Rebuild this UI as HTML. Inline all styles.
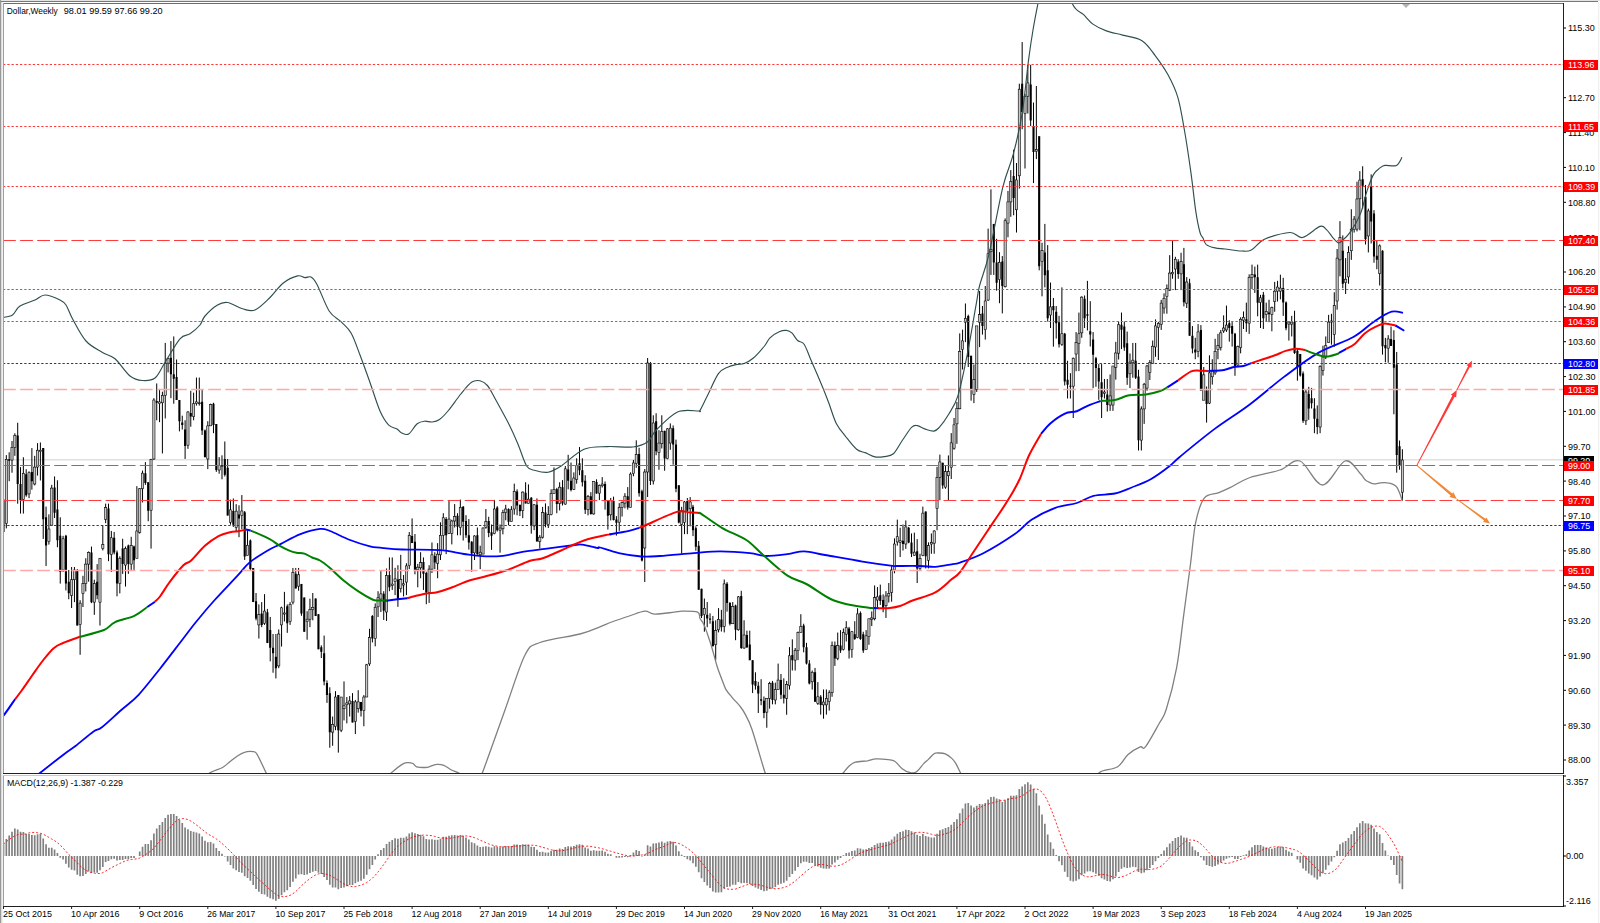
<!DOCTYPE html><html><head><meta charset="utf-8"><style>html,body{margin:0;padding:0;background:#fff;overflow:hidden}</style></head><body><svg width="1600" height="923" viewBox="0 0 1600 923" style="display:block"><rect x="0" y="0" width="1600" height="923" fill="#fff"/><rect x="0" y="0" width="1600" height="1" fill="#e3e3e3"/><rect x="0" y="1" width="1598" height="1" fill="#787878"/><rect x="0" y="0" width="1" height="923" fill="#999999"/><rect x="1" y="2" width="1" height="921" fill="#dcdcdc"/><rect x="2" y="2" width="1" height="921" fill="#f0f0f0"/><rect x="1598" y="2" width="1" height="921" fill="#f0f0f0"/><rect x="1599" y="2" width="1" height="921" fill="#fafafa"/><defs><clipPath id="mc"><rect x="4" y="4" width="1559" height="769"/></clipPath><clipPath id="sc"><rect x="4" y="776" width="1559" height="130"/></clipPath></defs><g clip-path="url(#mc)"><line x1="4" y1="459.7" x2="1563" y2="459.7" stroke="#e0e0e0" stroke-width="1.6"/><path d="M3.50 496.69V532.61M6.34 455.14V528.38M9.18 452.32V481.20M12.01 441.06V472.75M14.85 433.31V455.85M17.69 422.75V503.73M20.52 467.11V513.59M23.36 457.25V513.59M26.20 469.23V496.69M29.04 471.34V498.10M31.88 448.10V489.65M34.71 455.85V485.42M37.55 443.17V475.56M40.39 442.46V480.49M43.23 448.10V538.94M46.06 506.58V566.07M48.90 514.38V544.61M51.74 484.86V525.83M54.57 476.41V518.02M57.41 480.31V547.28M60.25 517.31V583.62M63.09 535.84V571.92M65.92 534.86V590.45M68.76 569.97V599.23M71.60 567.04V608.00M74.44 567.04V602.15M77.27 568.99V625.56M80.11 600.20V654.81M82.95 575.82V607.03M85.79 558.27V591.42M88.62 551.44V581.67M91.46 546.56V603.13M94.30 579.72V614.83M97.14 564.12V599.23M99.97 558.27V625.56M102.81 525.11V550.46M105.65 503.65V523.16M108.49 503.65V561.19M111.33 530.96V571.92M114.16 531.93V554.37M117.00 550.46V596.30M119.84 556.32V593.37M122.67 538.76V573.87M125.51 546.56V586.55M128.35 544.61V573.87M131.19 536.81V569.97M134.03 545.59V569.97M136.86 486.16V558.27M139.70 488.11V533.63M142.54 470.56V502.42M145.38 462.11V484.86M148.21 482.26V521.27M151.05 458.86V548.58M153.89 398.18V459.91M156.72 383.44V420.29M159.56 388.96V422.13M162.40 391.73V453.46M165.24 342.90V418.45M168.07 357.64V372.38M170.91 341.06V398.18M173.75 336.45V403.71M176.59 359.48V400.02M179.42 400.02V431.35M182.26 415.68V429.50M185.10 420.29V458.98M187.94 411.08V448.85M190.78 390.81V426.74M193.61 392.65V420.29M196.45 377.54V405.55M199.29 377.54V405.55M202.12 389.89V435.03M204.96 429.50V457.14M207.80 421.21V469.12M210.64 403.71V425.82M213.47 402.78V433.19M216.31 423.97V471.88M219.15 457.14V473.73M221.99 455.30V479.25M224.82 441.48V476.49M227.66 458.98V515.56M230.50 499.61V524.67M233.34 498.47V526.95M236.17 504.17V531.50M239.01 505.31V537.20M241.85 495.06V529.23M244.69 511.00V559.98M247.53 530.36V555.42M250.36 539.48V570.23M253.20 567.95V602.12M256.04 593.01V620.34M258.88 604.40V638.56M261.71 602.12V627.18M264.55 594.15V624.90M267.39 608.95V643.12M270.22 616.92V661.34M273.06 634.01V672.73M275.90 634.01V678.43M278.74 629.45V668.18M281.57 606.67V646.54M284.41 591.87V621.48M287.25 604.40V632.87M290.09 602.12V624.90M292.93 567.95V604.40M295.76 567.95V588.45M298.60 567.95V590.73M301.44 583.90V615.79M304.27 597.56V631.73M307.11 611.23V639.70M309.95 598.70V627.18M312.79 593.01V620.34M315.62 598.53V616.08M318.46 614.13V649.24M321.30 645.34V658.02M324.14 635.59V685.32M326.97 680.45V702.88M329.81 687.28V747.74M332.65 716.53V745.79M335.49 691.18V730.19M338.32 695.08V752.62M341.16 697.03V732.14M344.00 681.42V720.43M346.84 697.03V723.36M349.68 696.05V716.53M352.51 693.13V722.38M355.35 699.95V734.09M358.19 690.20V712.63M361.02 701.90V716.53M363.86 695.08V726.28M366.70 663.87V697.03M369.54 628.76V665.82M372.38 615.11V642.41M375.21 603.41V646.32M378.05 591.23V617.06M380.89 571.07V612.04M383.72 591.23V619.98M386.56 568.47V620.96M389.40 557.42V591.23M392.24 557.42V589.93M395.07 567.82V595.13M397.91 565.22V606.83M400.75 554.82V592.53M403.59 574.97V596.43M406.43 563.27V595.13M409.26 532.06V569.12M412.10 518.41V543.11M414.94 534.01V574.32M417.77 563.92V587.33M420.61 552.22V578.22M423.45 557.42V589.93M426.29 571.72V604.23M429.12 565.22V602.93M431.96 542.46V573.02M434.80 552.22V569.12M437.64 543.11V578.22M440.47 522.31V560.02M443.31 513.21V549.62M446.15 517.11V554.17M448.99 500.85V534.01M451.82 519.71V544.41M454.66 504.10V527.51M457.50 513.21V535.31M460.34 499.55V535.31M463.18 506.05V540.51M466.01 515.16V537.91M468.85 519.06V549.62M471.69 541.16V571.72M474.52 535.31V560.02M477.36 527.51V554.82M480.20 545.72V569.12M483.04 527.32V554.08M485.88 509.01V528.73M488.71 516.76V537.18M491.55 524.51V549.86M494.39 499.86V534.37M497.22 506.20V531.55M500.06 524.51V552.68M502.90 509.72V534.37M505.74 504.79V520.28M508.57 508.31V525.21M511.41 506.20V521.69M514.25 483.66V514.65M517.09 489.30V515.35M519.92 504.79V516.06M522.76 491.41V518.17M525.60 482.25V503.38M528.44 484.37V503.38M531.27 497.04V533.66M534.11 504.08V530.14M536.95 498.45V541.41M539.79 535.07V548.45M542.62 506.90V538.59M545.46 503.38V527.32M548.30 506.20V528.03M551.14 489.30V515.35M553.98 467.46V493.52M556.81 487.89V513.24M559.65 482.25V510.42M562.49 480.14V505.49M565.32 466.06V504.79M568.16 454.79V489.30M571.00 462.54V491.41M573.84 472.39V490.00M576.67 458.31V483.66M579.51 447.04V475.21M582.35 458.31V486.48M585.19 475.21V513.94M588.02 494.93V515.35M590.86 492.11V514.65M593.70 481.55V514.65M596.54 479.30V493.60M599.38 484.50V500.10M602.21 477.13V487.53M605.05 481.46V509.63M607.89 500.53V529.56M610.73 497.93V520.46M613.56 496.63V520.46M616.40 516.13V535.62M619.24 503.13V530.86M622.07 501.40V516.56M624.91 493.16V508.33M627.75 487.10V509.63M630.59 472.37V507.46M633.42 459.97V476.27M636.26 440.33V467.80M639.10 447.78V496.63M641.94 489.70V561.46M644.77 469.00V582.00M647.61 358.00V497.00M650.45 362.00V485.00M653.29 415.27V484.50M656.12 413.24V455.23M658.96 430.17V469.76M661.80 415.27V448.46M664.64 430.85V470.73M667.48 428.14V459.29M670.31 423.40V449.81M673.15 425.43V464.71M675.99 439.65V492.20M678.82 485.37V523.41M681.66 506.83V553.66M684.50 500.98V534.15M687.34 498.05V534.15M690.17 497.07V526.34M693.01 504.88V536.10M695.85 526.34V550.73M698.69 540.98V589.76M701.52 588.78V618.05M704.36 598.54V631.71M707.20 602.07V627.20M710.04 613.34V623.74M712.88 615.94V646.27M715.71 620.27V660.14M718.55 608.13V632.40M721.39 609.87V631.54M724.23 579.53V632.40M727.06 582.13V611.60M729.90 602.07V625.47M732.74 602.07V623.74M735.57 604.67V640.20M738.41 596.00V630.67M741.25 590.80V648.87M744.09 620.27V648.87M746.92 630.67V648.00M749.76 630.67V660.14M752.60 660.14V693.07M755.44 672.27V689.60M758.27 681.80V713.01M761.11 679.20V705.21M763.95 696.54V718.21M766.79 698.27V727.74M769.62 681.80V708.67M772.46 680.94V704.34M775.30 682.67V704.34M778.14 663.60V689.60M780.98 674.00V699.14M783.81 678.34V703.47M786.65 680.94V714.74M789.49 647.14V689.60M792.32 639.34V670.54M795.16 648.00V670.54M798.00 631.54V660.14M800.84 614.20V632.40M803.67 623.74V652.34M806.51 642.80V664.47M809.35 660.14V684.40M812.19 670.54V689.60M815.02 667.94V701.74M817.86 682.14V704.89M820.70 695.14V714.64M823.54 689.45V718.71M826.38 689.45V714.64M829.21 690.27V710.58M832.05 641.51V696.77M834.89 641.51V665.89M837.73 632.57V660.20M840.56 630.13V652.89M843.40 628.51V650.45M846.24 621.19V641.51M849.07 626.88V658.57M851.91 630.95V657.76M854.75 621.19V639.88M857.59 608.19V638.26M860.42 611.44V639.88M863.26 631.76V652.89M866.10 630.13V649.64M868.94 618.76V644.76M871.77 611.44V626.07M874.61 585.44V620.38M877.45 587.06V607.38M880.29 584.63V604.94M883.12 594.38V612.26M885.96 591.13V617.94M888.80 583.00V602.50M891.64 566.00V601.70M894.48 538.33V573.27M897.31 519.64V545.64M900.15 527.76V557.02M902.99 524.51V550.52M905.82 520.45V548.89M908.66 526.95V543.20M911.50 533.45V557.02M914.34 532.64V555.39M917.17 539.14V583.02M920.01 553.77V570.02M922.85 506.63V556.20M925.69 511.51V568.39M928.52 542.39V568.39M931.36 533.45V553.77M934.20 530.20V553.77M937.04 466.82V530.20M939.88 454.63V500.13M942.71 462.75V488.76M945.55 466.00V488.76M948.39 455.44V500.13M951.23 433.12V479.01M954.06 418.01V449.69M956.90 401.93V443.84M959.74 333.38V409.24M962.57 329.64V369.51M965.41 303.48V342.10M968.25 314.69V367.02M971.09 355.81V400.66M973.92 364.53V403.15M976.76 325.91V391.94M979.60 291.02V347.09M982.44 305.97V334.63M985.27 286.04V339.61M988.11 228.61V300.99M990.95 189.34V274.94M993.79 223.90V274.94M996.62 238.82V290.65M999.46 252.17V303.21M1002.30 256.09V313.45M1005.14 218.40V287.51M1007.98 190.91V237.25M1010.81 170.07V216.83M1013.65 149.65V215.26M1016.49 163.00V232.54M1019.32 83.69V188.56M1022.16 42.07V129.24M1025.00 93.90V168.50M1027.84 64.84V113.53M1030.67 64.84V126.09M1033.51 102.54V183.06M1036.35 86.04V159.08M1039.19 136.30V270.32M1042.02 242.74V296.32M1044.86 223.90V287.38M1047.70 245.10V321.51M1050.54 282.50V328.01M1053.38 297.94V346.70M1056.21 306.07V338.57M1059.05 315.82V347.51M1061.89 287.38V345.89M1064.72 332.89V385.51M1067.56 360.81V398.52M1070.40 373.16V398.52M1073.24 357.56V418.02M1076.08 332.07V371.21M1078.91 312.57V371.08M1081.75 296.32V337.76M1084.59 295.51V328.01M1087.42 280.88V330.45M1090.26 301.19V346.50M1093.10 332.07V388.11M1095.94 356.91V386.81M1098.77 364.06V399.82M1101.61 364.06V418.02M1104.45 379.01V398.52M1107.29 379.01V411.52M1110.12 374.46V410.87M1112.96 366.01V410.87M1115.80 341.83V379.66M1118.64 321.51V359.51M1121.47 312.57V349.10M1124.31 321.51V350.76M1127.15 331.58V384.86M1129.99 353.52V388.11M1132.83 342.95V377.71M1135.66 342.95V379.01M1138.50 369.77V450.53M1141.34 406.32V450.53M1144.17 382.91V423.88M1147.01 364.89V390.72M1149.85 360.00V380.00M1152.69 340.52V363.27M1155.52 319.39V356.77M1158.36 321.83V360.02M1161.20 299.88V329.95M1164.04 293.38V313.70M1166.88 284.44V313.70M1169.71 255.19V290.95M1172.55 240.56V278.76M1175.39 256.82V290.13M1178.22 259.25V278.76M1181.06 252.75V290.13M1183.90 247.88V306.39M1186.74 277.13V308.01M1189.58 278.76V335.64M1192.41 326.07V353.37M1195.25 337.77V359.23M1198.09 324.12V357.28M1200.92 325.09V390.43M1203.76 367.03V400.19M1206.60 386.53V422.62M1209.44 355.32V404.09M1212.27 359.23V384.58M1215.11 338.75V374.83M1217.95 333.87V359.23M1220.79 329.97V350.45M1223.62 315.34V332.89M1226.46 305.59V331.92M1229.30 320.22V341.67M1232.14 321.19V346.55M1234.97 332.89V375.80M1237.81 345.57V366.05M1240.65 317.29V353.37M1243.49 311.44V328.99M1246.33 302.66V331.92M1249.16 274.38V333.87M1252.00 264.63V289.01M1254.84 266.58V292.91M1257.67 264.63V316.32M1260.51 294.86V328.02M1263.35 291.93V328.99M1266.19 302.66V321.19M1269.02 299.74V322.17M1271.86 306.61V331.31M1274.70 281.91V311.75M1277.54 280.88V301.46M1280.38 274.70V299.40M1283.21 277.79V315.87M1286.05 301.46V330.28M1288.89 321.02V340.57M1291.72 315.87V336.46M1294.56 310.72V353.95M1297.40 348.81V380.71M1300.24 353.95V376.60M1303.08 371.45V422.91M1305.91 389.98V424.97M1308.75 386.89V419.82M1311.59 387.92V408.50M1314.42 398.21V433.20M1317.26 405.41V434.23M1320.10 365.27V433.20M1322.94 345.72V375.57M1325.77 336.46V359.10M1328.61 314.84V342.63M1331.45 313.81V344.69M1334.29 292.27V346.75M1337.12 249.04V309.70M1339.96 221.17V276.34M1342.80 235.39V288.29M1345.64 258.14V293.98M1348.47 246.19V283.74M1351.31 209.22V259.85M1354.15 216.05V232.54M1356.99 181.69V231.41M1359.83 171.13V230.27M1362.66 166.25V208.65M1365.50 184.94V244.49M1368.34 208.65V252.45M1371.17 174.38V243.45M1374.01 210.13V262.75M1376.85 241.01V269.25M1379.69 244.33V285.50M1382.52 250.29V354.67M1385.36 337.88V362.25M1388.20 335.17V362.80M1391.04 326.50V346.00M1393.88 330.29V414.26M1396.71 351.96V472.68M1399.55 440.49V469.76M1402.39 449.23V500.98" stroke="#000" stroke-width="1" fill="none"/><path d="M2.45 499.51h2.1V531.90h-2.1ZM8.12 459.37h2.1V460.77h-2.1ZM16.64 435.42h2.1V484.01h-2.1ZM19.47 484.01h2.1V500.21h-2.1ZM25.15 474.15h2.1V495.28h-2.1ZM30.82 472.04h2.1V481.20h-2.1ZM42.18 448.10h2.1V519.23h-2.1ZM45.01 517.31h2.1V545.59h-2.1ZM53.52 487.46h2.1V512.82h-2.1ZM56.36 509.57h2.1V540.13h-2.1ZM59.20 535.84h2.1V571.92h-2.1ZM64.88 535.84h2.1V583.62h-2.1ZM67.71 581.67h2.1V593.37h-2.1ZM76.22 569.97h2.1V625.56h-2.1ZM90.41 552.41h2.1V602.15h-2.1ZM96.09 581.67h2.1V595.32h-2.1ZM107.44 508.53h2.1V554.37h-2.1ZM113.11 537.79h2.1V552.41h-2.1ZM115.95 552.41h2.1V583.62h-2.1ZM121.62 548.51h2.1V564.12h-2.1ZM127.30 545.59h2.1V564.12h-2.1ZM132.97 546.56h2.1V560.22h-2.1ZM144.32 473.16h2.1V482.91h-2.1ZM147.16 482.26h2.1V510.87h-2.1ZM155.67 400.94h2.1V402.78h-2.1ZM169.86 357.64h2.1V374.22h-2.1ZM172.70 374.22h2.1V378.83h-2.1ZM175.54 376.99h2.1V400.02h-2.1ZM178.37 400.02h2.1V421.21h-2.1ZM181.21 422.59h2.1V424.90h-2.1ZM184.05 429.50h2.1V446.09h-2.1ZM189.72 412.92h2.1V416.60h-2.1ZM201.07 401.86h2.1V430.42h-2.1ZM203.91 430.42h2.1V457.14h-2.1ZM212.42 403.71h2.1V424.90h-2.1ZM215.26 423.97h2.1V470.04h-2.1ZM223.77 458.98h2.1V474.65h-2.1ZM226.61 467.74h2.1V515.56h-2.1ZM232.29 511.00h2.1V524.67h-2.1ZM237.96 514.38h2.1V518.44h-2.1ZM243.64 512.14h2.1V556.56h-2.1ZM249.31 540.62h2.1V569.09h-2.1ZM252.15 567.95h2.1V602.12h-2.1ZM254.99 601.33h2.1V618.39h-2.1ZM260.66 613.52h2.1V624.89h-2.1ZM266.34 612.37h2.1V643.12h-2.1ZM269.17 630.02h2.1V647.68h-2.1ZM272.01 647.68h2.1V653.37h-2.1ZM274.85 656.79h2.1V668.18h-2.1ZM286.20 606.20h2.1V623.27h-2.1ZM294.71 573.64h2.1V588.45h-2.1ZM300.39 583.90h2.1V613.51h-2.1ZM303.22 597.56h2.1V631.73h-2.1ZM314.57 598.53h2.1V616.08h-2.1ZM317.41 614.13h2.1V649.24h-2.1ZM320.25 647.29h2.1V651.68h-2.1ZM323.09 653.14h2.1V681.42h-2.1ZM325.92 682.89h2.1V695.08h-2.1ZM328.76 693.13h2.1V732.14h-2.1ZM337.27 695.08h2.1V730.19h-2.1ZM351.46 700.93h2.1V722.38h-2.1ZM359.97 701.90h2.1V710.68h-2.1ZM371.32 616.08h2.1V638.51h-2.1ZM382.67 593.83h2.1V610.73h-2.1ZM388.35 574.97h2.1V587.33h-2.1ZM396.86 579.53h2.1V599.03h-2.1ZM411.05 535.96h2.1V543.11h-2.1ZM413.89 541.81h2.1V569.77h-2.1ZM422.40 561.97h2.1V573.67h-2.1ZM425.24 573.02h2.1V592.53h-2.1ZM433.75 556.12h2.1V562.62h-2.1ZM445.10 519.06h2.1V535.31h-2.1ZM456.45 515.81h2.1V526.86h-2.1ZM462.12 506.70h2.1V521.66h-2.1ZM464.96 521.01h2.1V535.31h-2.1ZM467.80 535.31h2.1V542.46h-2.1ZM470.64 541.81h2.1V553.52h-2.1ZM476.31 535.31h2.1V554.17h-2.1ZM487.66 520.99h2.1V532.96h-2.1ZM490.50 532.25h2.1V535.77h-2.1ZM496.17 507.61h2.1V530.14h-2.1ZM507.52 509.01h2.1V521.69h-2.1ZM516.04 491.41h2.1V505.49h-2.1ZM518.88 504.79h2.1V511.13h-2.1ZM524.55 492.82h2.1V503.38h-2.1ZM530.23 497.75h2.1V525.92h-2.1ZM535.90 504.79h2.1V541.41h-2.1ZM544.41 512.54h2.1V524.51h-2.1ZM555.76 489.30h2.1V504.08h-2.1ZM561.44 487.18h2.1V503.38h-2.1ZM567.11 469.58h2.1V480.85h-2.1ZM569.95 480.85h2.1V490.00h-2.1ZM578.46 463.24h2.1V470.28h-2.1ZM581.30 470.28h2.1V482.25h-2.1ZM584.14 480.85h2.1V509.72h-2.1ZM589.81 496.34h2.1V513.94h-2.1ZM595.49 481.90h2.1V493.60h-2.1ZM604.00 484.06h2.1V500.53h-2.1ZM606.84 500.53h2.1V515.69h-2.1ZM612.51 500.96h2.1V520.03h-2.1ZM615.35 519.59h2.1V522.63h-2.1ZM626.70 496.20h2.1V507.46h-2.1ZM638.05 453.88h2.1V493.16h-2.1ZM640.89 491.20h2.1V560.50h-2.1ZM649.40 363.00h2.1V481.00h-2.1ZM655.08 421.37h2.1V451.17h-2.1ZM663.59 430.85h2.1V458.62h-2.1ZM672.10 428.14h2.1V444.39h-2.1ZM674.94 444.39h2.1V488.78h-2.1ZM677.77 485.37h2.1V522.44h-2.1ZM686.29 500.98h2.1V510.73h-2.1ZM691.96 506.83h2.1V530.24h-2.1ZM694.80 528.29h2.1V546.83h-2.1ZM697.64 545.85h2.1V589.76h-2.1ZM700.48 588.78h2.1V616.10h-2.1ZM706.15 614.64h2.1V618.54h-2.1ZM708.99 618.54h2.1V619.84h-2.1ZM711.83 621.14h2.1V646.27h-2.1ZM720.34 619.40h2.1V627.20h-2.1ZM726.01 583.87h2.1V602.93h-2.1ZM728.85 602.93h2.1V623.74h-2.1ZM734.52 605.53h2.1V629.80h-2.1ZM740.20 596.00h2.1V648.00h-2.1ZM745.88 635.00h2.1V647.14h-2.1ZM748.71 644.54h2.1V660.14h-2.1ZM751.55 660.14h2.1V684.40h-2.1ZM754.39 680.94h2.1V685.70h-2.1ZM757.23 685.70h2.1V693.50h-2.1ZM760.06 699.14h2.1V700.87h-2.1ZM762.90 700.87h2.1V713.01h-2.1ZM771.41 682.67h2.1V700.01h-2.1ZM779.93 680.07h2.1V694.80h-2.1ZM782.76 694.80h2.1V698.27h-2.1ZM791.27 654.94h2.1V660.14h-2.1ZM802.62 625.47h2.1V647.14h-2.1ZM805.46 647.14h2.1V663.60h-2.1ZM808.30 663.60h2.1V683.54h-2.1ZM813.98 672.27h2.1V701.74h-2.1ZM819.65 696.77h2.1V704.89h-2.1ZM833.84 645.57h2.1V658.57h-2.1ZM839.51 645.57h2.1V650.45h-2.1ZM848.02 628.51h2.1V650.45h-2.1ZM853.70 634.20h2.1V639.07h-2.1ZM859.38 613.07h2.1V639.07h-2.1ZM862.21 634.20h2.1V650.45h-2.1ZM879.24 595.19h2.1V600.88h-2.1ZM882.08 600.07h2.1V608.19h-2.1ZM901.94 540.76h2.1V544.01h-2.1ZM907.61 527.76h2.1V542.39h-2.1ZM910.45 542.39h2.1V553.77h-2.1ZM916.12 551.33h2.1V568.39h-2.1ZM924.64 511.51h2.1V556.20h-2.1ZM941.66 462.75h2.1V485.51h-2.1ZM967.20 315.94h2.1V357.05h-2.1ZM970.04 355.81h2.1V389.45h-2.1ZM981.39 313.45h2.1V325.91h-2.1ZM992.74 223.90h2.1V262.38h-2.1ZM995.58 262.38h2.1V282.79h-2.1ZM1001.25 261.59h2.1V285.94h-2.1ZM1012.60 175.99h2.1V197.98h-2.1ZM1021.11 83.69h2.1V111.96h-2.1ZM1029.62 84.47h2.1V120.60h-2.1ZM1032.46 126.09h2.1V152.01h-2.1ZM1038.14 136.30h2.1V266.25h-2.1ZM1043.81 252.44h2.1V275.19h-2.1ZM1046.65 270.32h2.1V318.26h-2.1ZM1052.33 306.07h2.1V310.13h-2.1ZM1055.16 311.76h2.1V323.14h-2.1ZM1058.00 322.32h2.1V344.26h-2.1ZM1063.67 333.70h2.1V381.61h-2.1ZM1066.51 379.66h2.1V384.86h-2.1ZM1069.35 385.84h2.1V386.64h-2.1ZM1083.54 298.76h2.1V318.26h-2.1ZM1086.38 314.20h2.1V315.82h-2.1ZM1089.21 331.26h2.1V334.51h-2.1ZM1092.05 339.39h2.1V354.83h-2.1ZM1094.89 358.21h2.1V367.96h-2.1ZM1097.72 367.96h2.1V381.61h-2.1ZM1100.56 382.26h2.1V397.22h-2.1ZM1106.24 394.62h2.1V405.02h-2.1ZM1120.42 324.76h2.1V329.64h-2.1ZM1123.26 326.39h2.1V347.51h-2.1ZM1126.10 343.25h2.1V377.71h-2.1ZM1134.61 360.81h2.1V377.71h-2.1ZM1137.45 376.41h2.1V440.13h-2.1ZM1177.17 261.69h2.1V273.88h-2.1ZM1182.85 264.13h2.1V302.32h-2.1ZM1188.53 283.16h2.1V335.64h-2.1ZM1191.36 335.82h2.1V348.50h-2.1ZM1194.20 349.47h2.1V352.40h-2.1ZM1199.88 329.97h2.1V390.43h-2.1ZM1205.55 390.43h2.1V404.09h-2.1ZM1228.25 323.14h2.1V328.02h-2.1ZM1231.09 326.07h2.1V333.87h-2.1ZM1233.92 333.87h2.1V367.03h-2.1ZM1245.28 319.24h2.1V323.14h-2.1ZM1253.79 274.38h2.1V277.31h-2.1ZM1256.62 277.31h2.1V302.66h-2.1ZM1262.30 294.86h2.1V318.27h-2.1ZM1267.97 312.41h2.1V314.37h-2.1ZM1282.16 288.08h2.1V302.49h-2.1ZM1285.00 302.49h2.1V328.22h-2.1ZM1293.51 322.05h2.1V352.92h-2.1ZM1296.35 350.86h2.1V367.33h-2.1ZM1299.19 353.95h2.1V375.57h-2.1ZM1302.03 373.51h2.1V420.85h-2.1ZM1307.70 394.09h2.1V408.50h-2.1ZM1310.54 398.21h2.1V403.36h-2.1ZM1313.38 408.50h2.1V418.79h-2.1ZM1316.21 418.79h2.1V427.03h-2.1ZM1341.75 250.75h2.1V283.74h-2.1ZM1361.61 179.25h2.1V185.75h-2.1ZM1364.45 196.80h2.1V239.37h-2.1ZM1370.12 186.57h2.1V221.51h-2.1ZM1372.96 213.38h2.1V256.45h-2.1ZM1375.80 255.64h2.1V259.70h-2.1ZM1381.47 250.83h2.1V346.27h-2.1ZM1384.31 344.92h2.1V348.17h-2.1ZM1389.99 338.96h2.1V346.00h-2.1ZM1392.83 340.04h2.1V367.67h-2.1ZM1395.66 364.42h2.1V455.12h-2.1ZM1398.50 446.34h2.1V464.88h-2.1Z" fill="#000"/><g fill="#c8c8c8" stroke="#000" stroke-width="0.6"><rect x="5.24" y="459.37" width="2.2" height="64.08"/><rect x="10.91" y="447.39" width="2.2" height="12.68"/><rect x="13.75" y="435.42" width="2.2" height="11.97"/><rect x="22.26" y="473.45" width="2.2" height="26.06"/><rect x="27.94" y="472.75" width="2.2" height="21.13"/><rect x="33.61" y="467.11" width="2.2" height="16.90"/><rect x="36.45" y="450.21" width="2.2" height="16.90"/><rect x="39.29" y="450.21" width="2.2" height="1.41"/><rect x="47.80" y="529.01" width="2.2" height="12.68"/><rect x="50.64" y="488.11" width="2.2" height="37.06"/><rect x="61.99" y="538.76" width="2.2" height="31.21"/><rect x="70.50" y="579.72" width="2.2" height="15.60"/><rect x="73.34" y="569.97" width="2.2" height="9.75"/><rect x="79.01" y="603.13" width="2.2" height="21.46"/><rect x="81.85" y="583.62" width="2.2" height="9.75"/><rect x="84.69" y="564.12" width="2.2" height="19.50"/><rect x="87.53" y="552.41" width="2.2" height="11.70"/><rect x="93.20" y="583.62" width="2.2" height="18.53"/><rect x="98.88" y="558.27" width="2.2" height="43.89"/><rect x="101.71" y="544.61" width="2.2" height="3.90"/><rect x="104.55" y="507.55" width="2.2" height="11.70"/><rect x="110.23" y="537.79" width="2.2" height="16.58"/><rect x="118.74" y="558.27" width="2.2" height="25.36"/><rect x="124.41" y="548.51" width="2.2" height="16.58"/><rect x="130.09" y="545.59" width="2.2" height="18.53"/><rect x="135.76" y="531.03" width="2.2" height="27.24"/><rect x="138.60" y="488.76" width="2.2" height="43.56"/><rect x="141.44" y="473.16" width="2.2" height="15.60"/><rect x="149.95" y="459.51" width="2.2" height="50.72"/><rect x="152.79" y="400.02" width="2.2" height="58.96"/><rect x="158.46" y="401.86" width="2.2" height="1.84"/><rect x="161.30" y="395.41" width="2.2" height="7.37"/><rect x="164.14" y="363.17" width="2.2" height="32.25"/><rect x="166.97" y="358.56" width="2.2" height="4.61"/><rect x="186.84" y="412.00" width="2.2" height="33.17"/><rect x="192.51" y="403.71" width="2.2" height="12.90"/><rect x="195.35" y="401.86" width="2.2" height="1.84"/><rect x="198.19" y="402.78" width="2.2" height="0.92"/><rect x="206.70" y="425.82" width="2.2" height="33.17"/><rect x="209.54" y="404.63" width="2.2" height="21.19"/><rect x="218.05" y="465.43" width="2.2" height="4.61"/><rect x="220.89" y="465.43" width="2.2" height="0.80"/><rect x="229.40" y="509.86" width="2.2" height="12.53"/><rect x="235.07" y="511.13" width="2.2" height="16.25"/><rect x="240.75" y="511.00" width="2.2" height="4.56"/><rect x="246.43" y="545.26" width="2.2" height="10.16"/><rect x="257.77" y="614.65" width="2.2" height="10.25"/><rect x="263.45" y="611.08" width="2.2" height="12.19"/><rect x="277.64" y="634.01" width="2.2" height="31.89"/><rect x="280.47" y="607.81" width="2.2" height="17.08"/><rect x="283.31" y="612.94" width="2.2" height="1.14"/><rect x="288.99" y="604.40" width="2.2" height="17.08"/><rect x="291.82" y="572.51" width="2.2" height="29.61"/><rect x="297.50" y="574.78" width="2.2" height="11.39"/><rect x="306.01" y="619.20" width="2.2" height="2.28"/><rect x="308.85" y="609.52" width="2.2" height="9.68"/><rect x="311.69" y="607.31" width="2.2" height="2.22"/><rect x="331.55" y="724.33" width="2.2" height="7.80"/><rect x="334.39" y="697.03" width="2.2" height="29.26"/><rect x="340.06" y="697.03" width="2.2" height="33.16"/><rect x="342.90" y="705.80" width="2.2" height="2.93"/><rect x="345.74" y="702.88" width="2.2" height="1.95"/><rect x="348.57" y="700.93" width="2.2" height="2.93"/><rect x="354.25" y="701.90" width="2.2" height="19.50"/><rect x="357.09" y="701.90" width="2.2" height="6.83"/><rect x="362.76" y="697.03" width="2.2" height="13.65"/><rect x="365.60" y="664.84" width="2.2" height="32.18"/><rect x="368.44" y="637.54" width="2.2" height="26.33"/><rect x="374.11" y="607.31" width="2.2" height="31.21"/><rect x="376.95" y="597.73" width="2.2" height="9.10"/><rect x="379.79" y="593.83" width="2.2" height="5.20"/><rect x="385.46" y="575.62" width="2.2" height="36.41"/><rect x="391.14" y="584.08" width="2.2" height="1.30"/><rect x="393.97" y="578.88" width="2.2" height="2.60"/><rect x="399.65" y="579.53" width="2.2" height="9.10"/><rect x="402.49" y="583.75" width="2.2" height="1.30"/><rect x="405.32" y="565.87" width="2.2" height="16.25"/><rect x="408.16" y="535.31" width="2.2" height="29.91"/><rect x="416.67" y="567.17" width="2.2" height="2.60"/><rect x="419.51" y="562.62" width="2.2" height="5.20"/><rect x="428.02" y="569.12" width="2.2" height="23.41"/><rect x="430.86" y="554.82" width="2.2" height="14.30"/><rect x="436.54" y="554.17" width="2.2" height="9.10"/><rect x="439.37" y="535.31" width="2.2" height="19.51"/><rect x="442.21" y="517.76" width="2.2" height="17.56"/><rect x="447.89" y="519.06" width="2.2" height="14.30"/><rect x="450.72" y="521.01" width="2.2" height="12.35"/><rect x="453.56" y="516.46" width="2.2" height="4.55"/><rect x="459.24" y="507.35" width="2.2" height="20.16"/><rect x="473.42" y="535.96" width="2.2" height="16.91"/><rect x="479.10" y="552.22" width="2.2" height="2.60"/><rect x="481.94" y="528.03" width="2.2" height="26.06"/><rect x="484.77" y="521.69" width="2.2" height="5.63"/><rect x="493.29" y="509.01" width="2.2" height="24.65"/><rect x="498.96" y="528.03" width="2.2" height="2.11"/><rect x="501.80" y="512.54" width="2.2" height="16.20"/><rect x="504.64" y="509.01" width="2.2" height="3.52"/><rect x="510.31" y="509.72" width="2.2" height="11.97"/><rect x="513.15" y="491.41" width="2.2" height="17.61"/><rect x="521.66" y="492.11" width="2.2" height="18.31"/><rect x="527.34" y="499.15" width="2.2" height="4.23"/><rect x="533.01" y="504.79" width="2.2" height="21.13"/><rect x="538.69" y="537.18" width="2.2" height="4.23"/><rect x="541.52" y="512.54" width="2.2" height="24.65"/><rect x="547.20" y="514.65" width="2.2" height="9.86"/><rect x="550.04" y="493.52" width="2.2" height="21.13"/><rect x="552.88" y="489.30" width="2.2" height="4.23"/><rect x="558.55" y="487.18" width="2.2" height="16.20"/><rect x="564.22" y="468.87" width="2.2" height="35.21"/><rect x="572.74" y="478.03" width="2.2" height="11.27"/><rect x="575.57" y="465.35" width="2.2" height="14.08"/><rect x="586.92" y="496.34" width="2.2" height="13.38"/><rect x="592.60" y="481.55" width="2.2" height="32.39"/><rect x="598.27" y="485.36" width="2.2" height="7.80"/><rect x="601.11" y="484.06" width="2.2" height="1.73"/><rect x="609.62" y="500.53" width="2.2" height="14.30"/><rect x="618.14" y="507.46" width="2.2" height="14.73"/><rect x="620.97" y="502.69" width="2.2" height="4.77"/><rect x="623.81" y="496.20" width="2.2" height="6.93"/><rect x="629.49" y="474.10" width="2.2" height="33.36"/><rect x="632.32" y="462.93" width="2.2" height="10.73"/><rect x="635.16" y="454.55" width="2.2" height="8.80"/><rect x="643.67" y="472.00" width="2.2" height="76.00"/><rect x="646.51" y="363.00" width="2.2" height="109.00"/><rect x="652.19" y="423.00" width="2.2" height="58.00"/><rect x="657.86" y="443.04" width="2.2" height="9.48"/><rect x="660.70" y="431.53" width="2.2" height="12.19"/><rect x="666.38" y="428.82" width="2.2" height="29.80"/><rect x="669.21" y="428.14" width="2.2" height="14.90"/><rect x="680.56" y="510.73" width="2.2" height="13.66"/><rect x="683.40" y="501.95" width="2.2" height="20.49"/><rect x="689.07" y="501.95" width="2.2" height="6.83"/><rect x="703.26" y="608.29" width="2.2" height="6.34"/><rect x="714.61" y="630.67" width="2.2" height="13.87"/><rect x="717.45" y="619.40" width="2.2" height="10.40"/><rect x="723.12" y="583.87" width="2.2" height="42.47"/><rect x="731.64" y="606.40" width="2.2" height="17.33"/><rect x="737.31" y="596.87" width="2.2" height="32.93"/><rect x="742.99" y="635.00" width="2.2" height="13.00"/><rect x="765.69" y="698.27" width="2.2" height="13.87"/><rect x="768.52" y="683.54" width="2.2" height="14.73"/><rect x="774.20" y="689.60" width="2.2" height="10.40"/><rect x="777.04" y="680.07" width="2.2" height="9.53"/><rect x="785.55" y="684.40" width="2.2" height="13.87"/><rect x="788.39" y="655.80" width="2.2" height="29.47"/><rect x="794.06" y="650.60" width="2.2" height="9.53"/><rect x="796.90" y="632.40" width="2.2" height="18.20"/><rect x="799.74" y="626.34" width="2.2" height="6.07"/><rect x="811.09" y="672.27" width="2.2" height="9.53"/><rect x="816.76" y="696.77" width="2.2" height="6.50"/><rect x="822.44" y="702.05" width="2.2" height="2.84"/><rect x="825.27" y="698.39" width="2.2" height="6.50"/><rect x="828.11" y="692.70" width="2.2" height="8.94"/><rect x="830.95" y="645.57" width="2.2" height="47.13"/><rect x="836.62" y="645.57" width="2.2" height="13.00"/><rect x="842.30" y="632.57" width="2.2" height="17.06"/><rect x="845.14" y="627.70" width="2.2" height="6.50"/><rect x="850.81" y="631.76" width="2.2" height="17.88"/><rect x="856.49" y="613.88" width="2.2" height="23.57"/><rect x="865.00" y="635.82" width="2.2" height="13.81"/><rect x="867.84" y="618.76" width="2.2" height="17.88"/><rect x="870.67" y="617.94" width="2.2" height="1.63"/><rect x="873.51" y="597.63" width="2.2" height="21.13"/><rect x="876.35" y="596.82" width="2.2" height="3.25"/><rect x="884.86" y="596.00" width="2.2" height="9.75"/><rect x="887.70" y="593.57" width="2.2" height="2.44"/><rect x="890.54" y="570.02" width="2.2" height="22.33"/><rect x="893.38" y="544.01" width="2.2" height="26.00"/><rect x="896.21" y="536.70" width="2.2" height="5.28"/><rect x="899.05" y="540.76" width="2.2" height="1.63"/><rect x="904.72" y="526.95" width="2.2" height="17.06"/><rect x="913.24" y="552.14" width="2.2" height="3.25"/><rect x="918.91" y="558.64" width="2.2" height="9.75"/><rect x="921.75" y="513.14" width="2.2" height="42.26"/><rect x="927.42" y="545.64" width="2.2" height="14.63"/><rect x="930.26" y="542.39" width="2.2" height="1.63"/><rect x="933.10" y="531.01" width="2.2" height="12.19"/><rect x="935.94" y="477.38" width="2.2" height="30.88"/><rect x="938.77" y="461.94" width="2.2" height="15.44"/><rect x="944.45" y="471.69" width="2.2" height="15.44"/><rect x="947.29" y="471.69" width="2.2" height="4.06"/><rect x="950.12" y="442.87" width="2.2" height="24.36"/><rect x="952.96" y="424.83" width="2.2" height="23.39"/><rect x="955.80" y="408.27" width="2.2" height="15.59"/><rect x="958.64" y="351.45" width="2.2" height="57.30"/><rect x="961.47" y="340.86" width="2.2" height="8.72"/><rect x="964.31" y="318.43" width="2.2" height="3.74"/><rect x="972.82" y="379.48" width="2.2" height="14.95"/><rect x="975.66" y="325.91" width="2.2" height="63.54"/><rect x="978.50" y="314.69" width="2.2" height="7.48"/><rect x="984.17" y="300.99" width="2.2" height="28.66"/><rect x="987.01" y="253.74" width="2.2" height="46.33"/><rect x="989.85" y="249.42" width="2.2" height="2.36"/><rect x="998.36" y="262.38" width="2.2" height="17.28"/><rect x="1004.04" y="220.76" width="2.2" height="65.97"/><rect x="1006.88" y="201.91" width="2.2" height="21.20"/><rect x="1009.71" y="181.49" width="2.2" height="20.42"/><rect x="1015.39" y="179.92" width="2.2" height="29.84"/><rect x="1018.22" y="89.19" width="2.2" height="86.60"/><rect x="1023.90" y="96.25" width="2.2" height="17.28"/><rect x="1026.74" y="82.90" width="2.2" height="13.35"/><rect x="1035.25" y="149.65" width="2.2" height="1.57"/><rect x="1040.92" y="250.60" width="2.2" height="10.99"/><rect x="1049.44" y="306.88" width="2.2" height="8.13"/><rect x="1060.79" y="333.70" width="2.2" height="10.56"/><rect x="1072.14" y="358.21" width="2.2" height="27.96"/><rect x="1074.98" y="342.64" width="2.2" height="11.38"/><rect x="1077.81" y="333.70" width="2.2" height="9.75"/><rect x="1080.65" y="297.13" width="2.2" height="35.75"/><rect x="1103.35" y="392.02" width="2.2" height="1.30"/><rect x="1109.03" y="395.92" width="2.2" height="9.10"/><rect x="1111.86" y="366.01" width="2.2" height="39.01"/><rect x="1114.70" y="353.00" width="2.2" height="14.30"/><rect x="1117.54" y="324.76" width="2.2" height="28.44"/><rect x="1128.89" y="362.11" width="2.2" height="11.70"/><rect x="1131.73" y="360.16" width="2.2" height="2.60"/><rect x="1140.24" y="408.92" width="2.2" height="31.21"/><rect x="1143.08" y="384.21" width="2.2" height="24.71"/><rect x="1145.91" y="366.01" width="2.2" height="22.11"/><rect x="1148.75" y="362.46" width="2.2" height="9.99"/><rect x="1151.59" y="346.20" width="2.2" height="17.06"/><rect x="1154.42" y="325.89" width="2.2" height="21.13"/><rect x="1157.26" y="323.45" width="2.2" height="4.06"/><rect x="1160.10" y="303.14" width="2.2" height="21.13"/><rect x="1162.94" y="298.26" width="2.2" height="9.75"/><rect x="1165.78" y="288.51" width="2.2" height="8.13"/><rect x="1168.61" y="273.07" width="2.2" height="17.06"/><rect x="1171.45" y="272.26" width="2.2" height="1.63"/><rect x="1174.29" y="259.25" width="2.2" height="9.75"/><rect x="1179.96" y="261.69" width="2.2" height="12.19"/><rect x="1185.64" y="282.01" width="2.2" height="21.13"/><rect x="1196.99" y="331.92" width="2.2" height="19.50"/><rect x="1202.66" y="374.83" width="2.2" height="25.36"/><rect x="1208.34" y="372.88" width="2.2" height="30.23"/><rect x="1211.17" y="370.93" width="2.2" height="5.85"/><rect x="1214.01" y="351.42" width="2.2" height="21.46"/><rect x="1216.85" y="345.57" width="2.2" height="3.90"/><rect x="1219.69" y="332.89" width="2.2" height="14.63"/><rect x="1222.53" y="328.02" width="2.2" height="2.93"/><rect x="1225.36" y="325.09" width="2.2" height="4.88"/><rect x="1236.71" y="346.55" width="2.2" height="18.53"/><rect x="1239.55" y="319.24" width="2.2" height="28.28"/><rect x="1242.39" y="317.29" width="2.2" height="2.93"/><rect x="1248.06" y="277.31" width="2.2" height="45.84"/><rect x="1250.90" y="274.38" width="2.2" height="2.93"/><rect x="1259.41" y="297.79" width="2.2" height="4.88"/><rect x="1265.09" y="311.44" width="2.2" height="2.93"/><rect x="1270.76" y="307.54" width="2.2" height="6.83"/><rect x="1273.60" y="291.17" width="2.2" height="10.29"/><rect x="1276.44" y="287.05" width="2.2" height="4.12"/><rect x="1279.28" y="288.08" width="2.2" height="3.09"/><rect x="1287.79" y="322.05" width="2.2" height="2.06"/><rect x="1290.62" y="322.05" width="2.2" height="2.06"/><rect x="1304.81" y="392.03" width="2.2" height="28.82"/><rect x="1319.00" y="366.30" width="2.2" height="60.72"/><rect x="1321.84" y="357.04" width="2.2" height="13.38"/><rect x="1324.67" y="345.72" width="2.2" height="11.32"/><rect x="1327.51" y="322.05" width="2.2" height="20.58"/><rect x="1330.35" y="321.02" width="2.2" height="1.03"/><rect x="1333.19" y="305.58" width="2.2" height="28.82"/><rect x="1336.03" y="258.14" width="2.2" height="42.84"/><rect x="1338.86" y="237.66" width="2.2" height="22.18"/><rect x="1344.54" y="279.19" width="2.2" height="3.41"/><rect x="1347.38" y="252.45" width="2.2" height="24.46"/><rect x="1350.21" y="229.13" width="2.2" height="21.62"/><rect x="1353.05" y="219.07" width="2.2" height="10.56"/><rect x="1355.89" y="198.98" width="2.2" height="30.15"/><rect x="1358.73" y="180.07" width="2.2" height="18.69"/><rect x="1367.24" y="210.93" width="2.2" height="25.03"/><rect x="1378.59" y="245.89" width="2.2" height="27.63"/><rect x="1387.10" y="338.96" width="2.2" height="9.21"/><rect x="1401.29" y="460.00" width="2.2" height="32.20"/></g><path d="M203.0 780.0C204.2 778.8 206.6 775.0 209.9 772.9C213.2 770.8 219.3 769.4 222.6 767.5C225.9 765.6 227.5 763.6 229.9 761.7C232.3 759.8 234.7 757.8 237.1 756.2C239.5 754.6 241.7 753.0 244.4 752.3C247.1 751.5 251.3 751.4 253.4 751.7C255.5 752.1 255.0 750.9 257.1 754.4C259.2 757.9 264.0 768.6 266.1 772.9C268.2 777.2 268.9 778.8 269.5 780.0" fill="none" stroke="#808080" stroke-width="1.3"/><path d="M385.0 780.0C386.0 778.8 388.3 775.5 391.2 772.9C394.1 770.3 399.4 766.1 402.1 764.4C404.8 762.7 405.7 762.8 407.5 762.6C409.3 762.5 411.4 762.8 412.9 763.5C414.4 764.2 414.5 766.1 416.6 766.8C418.7 767.5 423.5 767.5 425.6 767.5C427.7 767.5 427.4 767.3 429.2 766.8C431.0 766.3 434.1 764.6 436.5 764.4C438.9 764.1 441.4 764.4 443.8 765.3C446.2 766.2 448.6 768.5 451.0 769.8C453.4 771.1 456.0 771.7 458.3 772.9C460.6 774.1 463.9 776.3 465.0 777.0" fill="none" stroke="#808080" stroke-width="1.3"/><path d="M478.0 780.0C478.8 778.8 478.0 784.2 482.5 772.5C487.0 760.8 497.9 729.6 505.0 710.0C512.1 690.4 519.2 666.2 525.0 655.0C530.8 643.8 530.8 646.0 540.0 642.5C549.2 639.0 570.0 636.6 580.0 634.0C590.0 631.4 594.7 628.8 600.0 626.8C605.3 624.8 606.8 623.8 611.7 622.0C616.6 620.2 623.8 617.8 629.3 616.0C634.8 614.2 640.7 611.5 644.9 611.2C649.1 610.9 649.7 613.9 654.6 614.1C659.5 614.3 669.5 612.7 674.1 612.2C678.7 611.7 678.1 611.2 682.0 611.2C685.9 611.2 694.6 611.0 697.6 612.2C700.6 613.4 699.0 616.6 700.0 618.5C701.0 620.4 702.4 621.4 703.5 623.7C704.6 626.0 705.8 629.2 706.9 632.4C708.0 635.6 709.2 639.0 710.4 642.8C711.6 646.5 712.8 650.9 713.9 654.9C715.0 658.9 715.9 662.6 717.3 667.0C718.7 671.4 721.0 677.2 722.5 681.0C724.0 684.8 724.3 686.7 726.0 689.6C727.7 692.5 730.6 695.5 732.9 698.3C735.2 701.0 737.9 703.5 739.9 706.1C741.9 708.7 743.0 710.0 745.0 713.9C747.0 717.8 748.7 719.7 752.0 729.5C755.3 739.3 762.3 764.1 765.0 772.5C767.7 780.9 767.5 778.8 768.0 780.0" fill="none" stroke="#808080" stroke-width="1.3"/><path d="M839.0 778.0C839.7 777.2 841.5 774.9 843.1 773.0C844.7 771.1 846.7 768.2 848.7 766.4C850.7 764.6 852.2 763.1 855.3 762.2C858.4 761.3 864.1 761.3 867.5 760.8C870.9 760.2 872.5 759.1 875.9 758.9C879.3 758.7 885.0 759.2 888.1 759.6C891.2 760.0 892.4 759.7 894.7 761.2C897.1 762.7 899.7 766.8 902.2 768.7C904.7 770.6 907.4 772.0 909.7 772.5C912.0 773.0 913.9 773.5 916.2 772.0C918.5 770.5 921.7 765.7 923.7 763.6C925.7 761.5 926.7 761.0 928.4 759.4C930.1 757.8 932.3 754.9 934.0 753.8C935.7 752.7 936.8 753.0 938.7 753.0C940.6 753.0 943.1 752.9 945.3 753.8C947.5 754.7 950.1 756.8 951.8 758.4C953.5 760.0 954.2 760.8 955.6 763.1C957.0 765.5 959.1 770.0 960.3 772.5C961.5 775.0 962.5 777.1 963.0 778.0" fill="none" stroke="#808080" stroke-width="1.3"/><path d="M1095.0 780.0C1095.9 778.6 1096.6 774.1 1100.4 771.9C1104.2 769.7 1113.1 769.6 1117.7 766.7C1122.3 763.8 1124.3 757.8 1128.1 754.5C1131.8 751.2 1137.3 748.2 1140.2 746.9C1143.1 745.6 1142.2 750.8 1145.4 746.9C1148.6 743.0 1155.8 729.5 1159.3 723.3C1162.8 717.1 1163.3 718.7 1166.2 709.5C1169.1 700.3 1173.7 683.5 1176.6 667.9C1179.5 652.3 1181.3 633.2 1183.6 615.9C1185.9 598.6 1188.5 579.6 1190.5 564.0C1192.5 548.4 1193.4 533.4 1195.7 522.4C1198.0 511.4 1200.5 503.0 1204.3 498.1C1208.0 493.2 1213.9 494.6 1218.2 492.9C1222.5 491.2 1224.7 490.3 1230.0 487.7C1235.3 485.1 1241.7 480.4 1250.0 477.5C1258.3 474.6 1271.7 472.8 1280.0 470.0C1288.3 467.2 1292.9 458.5 1300.0 461.0C1307.1 463.5 1315.0 485.0 1322.5 485.0C1330.0 485.0 1338.8 463.0 1345.0 461.0C1351.2 459.0 1356.7 470.1 1360.0 473.2C1363.3 476.3 1363.6 478.1 1364.9 479.5C1366.2 480.9 1366.3 480.8 1367.8 481.5C1369.3 482.2 1371.6 483.7 1373.7 483.9C1375.8 484.1 1378.2 483.1 1380.5 482.9C1382.8 482.7 1385.2 482.6 1387.3 482.9C1389.4 483.1 1391.6 483.7 1393.2 484.4C1394.8 485.1 1395.9 485.7 1397.0 487.3C1398.1 488.9 1399.1 491.8 1400.0 494.1C1400.9 496.4 1402.0 499.9 1402.4 501.0" fill="none" stroke="#808080" stroke-width="1.3"/><path d="M2.5 317.5C4.2 317.1 9.6 316.9 12.5 315.0C15.4 313.1 16.2 308.5 20.0 306.0C23.8 303.5 30.8 301.8 35.0 300.0C39.2 298.2 40.8 295.0 45.0 295.0C49.2 295.0 56.5 298.3 60.0 300.0C63.5 301.7 63.9 301.9 66.0 305.0C68.1 308.1 69.2 312.8 72.5 318.8C75.8 324.8 81.0 335.4 86.0 341.0C91.0 346.6 97.7 349.5 102.5 352.5C107.3 355.5 110.4 354.8 115.0 358.8C119.6 362.7 125.4 372.4 130.0 376.0C134.6 379.6 138.3 380.2 142.5 380.5C146.7 380.8 151.2 381.0 155.0 378.0C158.8 375.0 160.8 369.0 165.0 362.5C169.2 356.0 175.8 343.5 180.0 338.8C184.2 334.0 186.7 336.0 190.0 333.8C193.3 331.5 197.5 328.0 200.0 325.0C202.5 322.0 202.1 319.3 205.0 316.0C207.9 312.7 213.8 307.2 217.5 305.0C221.2 302.8 223.3 301.9 227.5 302.5C231.7 303.1 237.9 307.5 242.5 308.8C247.1 310.0 250.4 311.9 255.0 310.0C259.6 308.1 265.3 302.0 270.0 297.5C274.7 293.0 278.4 286.8 283.0 283.2C287.6 279.6 294.0 276.8 297.6 275.9C301.2 275.0 302.7 277.4 304.9 277.6C307.1 277.8 309.0 275.9 311.0 277.0C313.0 278.1 313.9 278.7 317.0 284.4C320.1 290.1 325.2 304.9 329.3 311.2C333.4 317.5 337.9 318.5 341.5 322.2C345.1 325.9 348.1 327.7 351.2 333.2C354.3 338.7 356.9 346.8 360.0 355.0C363.1 363.2 366.7 373.2 370.0 382.5C373.3 391.8 376.9 403.9 380.0 411.0C383.1 418.1 385.7 421.8 388.5 424.8C391.3 427.8 394.9 427.7 397.0 429.0C399.1 430.3 399.4 431.9 401.3 432.7C403.2 433.5 406.1 435.5 408.7 434.0C411.3 432.5 414.5 425.9 417.2 423.8C419.9 421.7 422.1 421.5 424.6 421.2C427.1 420.9 429.6 422.3 432.1 422.0C434.6 421.7 436.9 421.3 439.5 419.5C442.1 417.7 444.4 415.2 448.0 411.0C451.6 406.8 456.9 398.8 460.8 394.0C464.7 389.2 468.3 384.5 471.5 382.3C474.7 380.1 477.4 380.3 480.0 380.8C482.6 381.3 484.9 382.6 487.4 385.5C489.9 388.4 491.2 391.6 494.9 398.3C498.6 405.0 505.9 418.1 509.8 425.9C513.7 433.7 515.5 438.3 518.3 445.0C521.1 451.7 524.0 461.9 526.8 466.2C529.6 470.4 531.8 469.5 535.3 470.5C538.8 471.5 543.8 472.9 548.0 472.2C552.2 471.5 554.8 470.0 560.8 466.2C566.8 462.4 576.2 452.5 584.0 449.2C591.8 445.9 599.3 447.0 607.4 446.6C615.5 446.2 626.1 447.8 632.8 447.0C639.5 446.2 643.8 444.5 647.7 441.7C651.6 438.9 651.3 434.9 656.3 430.0C661.3 425.1 670.4 415.2 677.5 412.0C684.6 408.8 695.0 411.2 698.8 411.0C702.5 410.8 698.6 413.0 700.0 410.5C701.4 408.0 704.3 401.9 707.4 395.8C710.5 389.7 715.0 378.5 718.4 373.7C721.8 368.9 724.5 368.7 727.6 367.2C730.7 365.7 734.0 365.1 736.8 364.5C739.6 363.9 741.4 364.6 744.2 363.5C747.0 362.4 750.0 360.9 753.4 358.0C756.8 355.1 761.7 349.4 764.5 346.0C767.3 342.6 767.5 340.2 770.0 337.8C772.5 335.4 776.4 332.9 779.2 331.7C782.0 330.5 784.5 330.1 786.6 330.4C788.8 330.6 790.3 331.5 792.1 333.2C793.9 334.9 795.6 338.7 797.6 340.5C799.6 342.3 802.0 341.1 804.1 344.2C806.2 347.3 807.6 352.1 810.5 358.9C813.4 365.6 818.5 377.3 821.6 384.7C824.7 392.1 826.5 396.8 828.9 403.2C831.3 409.6 833.5 417.9 836.3 423.4C839.1 428.9 842.1 432.0 845.5 436.3C848.9 440.6 853.2 446.4 856.6 449.2C860.0 452.0 862.7 451.6 865.8 452.9C868.9 454.2 871.9 456.3 875.0 456.9C878.1 457.5 881.1 457.1 884.2 456.6C887.3 456.1 890.3 456.6 893.4 453.8C896.5 451.0 899.5 444.4 902.6 440.0C905.7 435.6 909.3 429.5 911.8 427.1C914.3 424.7 915.2 425.3 917.4 425.6C919.5 425.9 922.0 428.0 924.7 428.9C927.5 429.8 931.4 431.4 933.9 431.1C936.4 430.8 937.0 429.9 939.5 427.1C942.0 424.3 945.6 419.4 948.7 414.2C951.8 409.0 954.8 405.6 957.9 395.8C961.0 386.0 964.0 370.7 967.1 355.3C970.2 339.9 974.2 315.2 976.3 303.7C978.4 292.1 977.4 294.3 979.5 286.0C981.6 277.7 985.1 270.4 989.0 254.0C992.9 237.6 998.7 204.2 1002.7 187.6C1006.8 171.0 1010.0 166.8 1013.3 154.2C1016.6 141.6 1019.9 127.4 1022.4 111.8C1024.9 96.2 1026.7 73.9 1028.5 60.3C1030.3 46.7 1031.4 39.5 1033.0 30.0C1034.6 20.5 1036.0 13.3 1038.0 3.3C1040.0 -6.7 1041.3 -22.8 1045.0 -30.0C1048.7 -37.2 1055.5 -45.5 1060.0 -40.0C1064.5 -34.5 1068.3 -5.8 1072.2 3.3C1076.1 12.4 1080.1 11.1 1083.6 14.6C1087.1 18.1 1089.5 21.7 1093.3 24.4C1097.1 27.1 1101.4 29.1 1106.3 30.9C1111.2 32.7 1116.6 33.5 1122.6 35.1C1128.5 36.7 1136.6 37.3 1142.0 40.7C1147.4 44.1 1150.7 49.6 1155.0 55.3C1159.3 61.0 1164.2 67.8 1168.0 74.8C1171.8 81.8 1175.2 88.4 1177.9 97.6C1180.6 106.8 1182.2 117.5 1184.4 130.0C1186.6 142.5 1189.0 158.8 1190.9 172.4C1192.8 186.0 1194.3 201.4 1195.8 211.4C1197.3 221.4 1198.8 228.1 1200.0 232.5C1201.2 236.9 1202.0 236.0 1203.0 238.0C1204.0 240.0 1204.3 242.9 1206.3 244.6C1208.3 246.2 1211.9 247.2 1215.0 247.9C1218.1 248.6 1220.6 248.5 1225.0 249.0C1229.4 249.5 1237.2 250.8 1241.6 251.0C1246.0 251.2 1247.4 252.0 1251.3 250.0C1255.2 248.0 1258.5 241.9 1265.0 239.0C1271.5 236.1 1283.8 232.8 1290.0 232.5C1296.2 232.2 1297.5 238.5 1302.5 237.5C1307.5 236.5 1316.0 227.7 1320.0 226.4C1324.0 225.1 1324.3 227.7 1326.5 229.6C1328.7 231.5 1331.1 235.6 1333.0 237.8C1334.9 240.0 1336.6 241.9 1337.9 242.6C1339.2 243.3 1338.8 243.7 1341.0 241.8C1343.2 239.9 1347.6 236.0 1350.9 231.3C1354.2 226.6 1357.9 220.2 1360.6 213.4C1363.3 206.6 1364.9 197.1 1367.1 190.6C1369.3 184.1 1371.4 178.2 1373.6 174.4C1375.8 170.6 1378.1 169.4 1380.0 167.9C1381.9 166.4 1382.3 165.8 1385.0 165.4C1387.7 165.0 1393.6 166.8 1396.4 165.4C1399.2 164.1 1401.1 158.7 1402.0 157.3" fill="none" stroke="#2f4f4f" stroke-width="1.15"/><path d="M30.0 781.0C31.7 779.7 34.2 777.6 40.0 773.0C45.8 768.4 59.0 758.0 65.0 753.5C71.0 749.0 71.1 749.4 75.8 745.8C80.5 742.2 88.8 734.8 93.2 731.7C97.6 728.6 97.2 730.9 101.9 727.3C106.6 723.7 115.2 715.4 121.3 710.0C127.4 704.6 132.2 701.7 138.6 694.8C145.0 687.9 153.1 677.4 160.0 668.7C166.9 660.0 174.0 650.6 180.0 642.8C186.0 635.0 190.4 628.8 196.2 621.7C202.0 614.6 207.7 607.8 214.7 600.0C221.7 592.2 232.2 581.4 238.0 575.1C243.8 568.8 244.8 566.5 249.7 562.4C254.6 558.3 262.1 553.8 267.3 550.7C272.5 547.6 275.4 546.7 280.9 543.9C286.4 541.1 293.9 536.6 300.4 534.1C306.9 531.6 315.1 529.4 320.0 528.9C324.9 528.4 325.0 529.1 330.0 531.0C335.0 532.9 343.3 537.4 350.0 540.0C356.7 542.6 365.0 545.1 370.0 546.4C375.0 547.7 374.6 547.2 380.0 547.7C385.4 548.2 392.5 549.1 402.5 549.5C412.5 549.9 429.8 549.5 440.0 550.2C450.2 551.0 457.0 553.0 464.0 554.0C471.0 555.0 475.5 555.9 482.0 556.2C488.5 556.5 496.2 556.5 503.0 555.8C509.8 555.1 515.5 553.0 522.5 551.8C529.5 550.6 536.2 549.9 545.0 548.8C553.8 547.7 568.8 545.7 575.0 545.0C581.2 544.3 578.8 544.2 582.5 544.7C586.2 545.2 594.6 547.5 597.5 548.0C600.4 548.5 596.5 546.6 600.0 547.5C603.5 548.4 611.9 551.6 618.8 553.1C625.7 554.6 634.4 556.0 641.3 556.5C648.2 557.0 651.2 556.6 660.0 556.0C668.8 555.4 683.8 553.9 693.8 553.1C703.8 552.3 710.6 551.3 720.0 551.3C729.4 551.3 742.5 552.3 750.0 553.1C757.5 553.9 758.8 555.8 765.0 556.0C771.2 556.2 780.9 554.9 787.5 554.1C794.1 553.3 798.1 551.1 804.4 551.3C810.6 551.4 815.3 553.3 825.0 555.0C834.7 556.7 851.2 559.8 862.5 561.6C873.8 563.4 886.9 565.2 892.5 565.9C898.1 566.6 891.6 566.0 896.3 566.0C901.0 566.0 914.1 565.9 920.6 566.0C927.1 566.1 930.1 567.1 935.3 566.8C940.4 566.5 947.4 565.0 951.5 564.3C955.6 563.6 954.6 564.5 960.0 562.6C965.4 560.7 974.7 557.8 983.8 553.0C992.9 548.2 1006.8 539.5 1014.8 534.0C1022.8 528.5 1024.8 524.1 1031.5 519.7C1038.2 515.3 1047.8 510.6 1055.3 507.8C1062.8 505.0 1070.4 505.0 1076.8 503.0C1083.2 501.0 1087.2 497.4 1093.5 495.8C1099.8 494.2 1108.6 494.9 1114.9 493.5C1121.2 492.1 1125.6 489.9 1131.6 487.5C1137.6 485.1 1144.3 482.8 1150.7 479.2C1157.1 475.6 1164.8 469.8 1169.7 466.0C1174.6 462.2 1172.5 462.9 1180.0 456.7C1187.5 450.5 1203.1 437.6 1214.7 428.9C1226.3 420.2 1237.9 413.4 1249.4 404.7C1261.0 396.0 1272.5 385.6 1284.0 376.9C1295.5 368.2 1307.1 359.2 1318.7 352.6C1330.3 346.0 1344.2 342.2 1353.4 337.0C1362.7 331.8 1367.8 325.6 1374.2 321.4C1380.6 317.2 1386.8 313.1 1391.6 311.7C1396.4 310.3 1401.1 312.7 1403.0 312.9" fill="none" stroke="#0000ff" stroke-width="1.8"/><path d="M0.0 716.0C0.5 716.0 0.7 718.8 3.2 716.0C5.7 713.2 13.2 701.8 15.2 699.0" fill="none" stroke="#0000ff" stroke-width="2"/><path d="M15.2 699.0C16.3 697.6 18.8 694.5 21.7 690.5C24.6 686.5 28.9 680.1 32.5 675.0C36.1 669.9 39.7 664.5 43.3 660.0C46.9 655.5 50.7 650.8 54.0 648.0C57.3 645.2 58.7 644.9 63.0 643.0C67.3 641.1 77.2 637.8 80.0 636.8" fill="none" stroke="#ff0000" stroke-width="2"/><path d="M80.0 636.8C84.0 635.7 98.2 632.4 104.0 630.0C109.8 627.6 109.8 624.7 114.8 622.3C119.8 619.9 128.9 618.3 134.3 615.8C139.7 613.2 145.1 608.5 147.3 607.0" fill="none" stroke="#008000" stroke-width="2"/><path d="M147.3 607.0 L155.0 601.7" fill="none" stroke="#0000ff" stroke-width="2"/><path d="M155.0 601.7C155.8 600.8 157.5 599.8 160.0 596.5C162.5 593.2 165.9 587.1 169.8 581.9C173.7 576.7 179.8 568.9 183.4 565.3C187.0 561.7 187.6 563.8 191.2 560.5C194.8 557.2 200.3 549.9 204.9 545.8C209.5 541.7 214.3 538.4 218.5 536.1C222.7 533.8 226.9 533.0 230.2 532.2C233.4 531.4 235.4 531.6 238.0 531.2C240.6 530.8 244.5 529.9 245.8 529.6" fill="none" stroke="#ff0000" stroke-width="2"/><path d="M245.8 529.6 L250.7 530.6" fill="none" stroke="#0000ff" stroke-width="2"/><path d="M250.7 530.6C252.5 531.4 258.0 533.5 261.4 535.1C264.8 536.7 268.3 538.3 271.2 540.0C274.1 541.7 276.1 543.6 279.0 545.3C281.9 547.0 285.8 549.1 288.7 550.3C291.6 551.5 293.9 552.2 296.5 552.7C299.1 553.2 301.7 552.8 304.3 553.6C306.9 554.4 309.5 556.4 312.1 557.5C314.7 558.6 317.0 558.8 320.0 560.5C323.0 562.2 326.2 564.8 330.0 568.0C333.8 571.2 338.2 576.0 343.0 580.0C347.8 584.0 353.9 588.5 358.8 591.7C363.7 595.0 369.1 598.0 372.4 599.5C375.6 601.0 375.9 600.3 378.3 600.5C380.7 600.7 385.6 600.5 387.0 600.5" fill="none" stroke="#008000" stroke-width="2"/><path d="M387.0 600.5C387.2 600.5 384.7 600.9 388.0 600.5C391.3 600.1 403.8 598.6 407.0 598.2C410.2 597.8 407.4 598.1 407.5 598.1" fill="none" stroke="#0000ff" stroke-width="2"/><path d="M407.5 598.1C410.4 597.4 420.1 594.8 425.0 593.8C429.9 592.8 433.0 593.1 437.0 592.2C441.0 591.3 443.5 590.5 449.0 588.5C454.5 586.5 464.0 582.3 470.0 580.3C476.0 578.3 479.0 578.1 485.0 576.5C491.0 574.9 498.5 573.1 506.0 570.5C513.5 567.9 524.0 562.8 530.0 560.8C536.0 558.8 537.0 560.1 542.0 558.5C547.0 556.9 553.0 554.0 560.0 551.0C567.0 548.0 575.8 543.3 584.0 540.5C592.2 537.7 605.1 535.4 609.4 534.4C613.7 533.4 609.7 534.3 609.8 534.3" fill="none" stroke="#ff0000" stroke-width="2"/><path d="M609.4 534.4C611.2 534.1 616.6 533.1 620.0 532.5C623.4 531.9 627.1 531.3 630.0 530.6C632.9 529.9 636.0 528.9 637.5 528.4C639.0 527.9 638.8 527.9 639.0 527.8" fill="none" stroke="#0000ff" stroke-width="2"/><path d="M639.0 527.8C640.0 527.4 638.7 528.2 645.0 525.5C651.3 522.8 669.4 514.1 676.9 511.9C684.4 509.7 686.6 512.4 690.0 512.5C693.4 512.6 695.8 512.6 697.5 512.8C699.2 513.0 699.6 513.3 700.0 513.5" fill="none" stroke="#ff0000" stroke-width="2"/><path d="M700.0 513.5C700.2 513.5 697.6 511.4 701.3 513.8C704.9 516.2 714.4 523.4 721.9 527.8C729.4 532.2 739.4 535.5 746.3 540.0C753.2 544.5 756.2 549.1 763.1 555.0C770.0 560.9 780.3 570.8 787.5 575.6C794.7 580.4 799.1 580.1 806.3 584.0C813.5 587.9 823.4 595.5 830.6 599.0C837.8 602.5 842.5 603.2 849.4 604.7C856.3 606.2 867.9 607.5 871.9 608.1C875.9 608.7 873.2 608.1 873.5 608.1" fill="none" stroke="#008000" stroke-width="2"/><path d="M873.5 608.1 L879.0 608.2" fill="none" stroke="#0000ff" stroke-width="2"/><path d="M879.0 608.2C879.2 608.2 878.2 608.2 880.0 608.2C881.8 608.2 886.5 608.4 889.8 608.0C893.1 607.6 896.2 607.2 900.0 606.0C903.8 604.8 906.7 602.8 912.6 600.5C918.5 598.2 928.8 595.9 935.3 592.4C941.8 588.9 947.5 582.7 951.6 579.3C955.7 575.9 956.2 576.9 960.0 572.1C963.8 567.3 968.7 559.0 974.3 550.7C979.9 542.4 987.8 530.5 993.4 522.1C999.0 513.8 1003.3 507.8 1007.7 500.6C1012.1 493.5 1016.0 486.8 1019.6 479.2C1023.2 471.6 1025.5 462.9 1029.1 455.3C1032.7 447.8 1039.0 437.5 1041.0 433.9" fill="none" stroke="#ff0000" stroke-width="2"/><path d="M1041.0 433.9C1042.6 432.1 1046.6 426.6 1050.6 423.2C1054.6 419.8 1060.5 415.6 1064.9 413.6C1069.3 411.6 1072.8 412.6 1076.8 411.2C1080.8 409.8 1084.7 407.0 1088.7 405.3C1092.7 403.6 1098.6 401.7 1100.6 401.0" fill="none" stroke="#0000ff" stroke-width="2"/><path d="M1100.6 401.0C1103.0 400.8 1110.1 400.9 1114.9 400.0C1119.7 399.1 1124.0 396.2 1129.2 395.3C1134.4 394.4 1140.7 395.3 1145.9 394.6C1151.1 393.9 1156.6 392.2 1160.2 391.0C1163.8 389.8 1166.1 388.0 1167.3 387.4" fill="none" stroke="#008000" stroke-width="2"/><path d="M1167.3 387.4 L1178.1 380.3" fill="none" stroke="#0000ff" stroke-width="2"/><path d="M1178.1 380.3C1180.3 378.8 1187.5 373.0 1191.2 371.4C1194.9 369.8 1197.1 370.8 1200.0 370.7C1202.9 370.6 1207.0 370.9 1208.4 371.0" fill="none" stroke="#ff0000" stroke-width="2"/><path d="M1208.4 371.0C1211.0 370.8 1219.8 370.7 1224.0 370.0C1228.2 369.3 1230.5 367.7 1233.8 367.0C1237.0 366.3 1240.6 366.6 1243.5 366.0C1246.4 365.4 1250.0 363.6 1251.3 363.1" fill="none" stroke="#0000ff" stroke-width="2"/><path d="M1251.3 363.1C1253.2 362.5 1259.0 360.5 1263.0 359.2C1267.0 357.9 1271.2 356.7 1275.0 355.3C1278.8 353.9 1282.1 352.0 1285.6 350.9C1289.1 349.8 1292.8 349.0 1295.9 348.8C1299.0 348.6 1302.6 349.6 1304.1 349.8C1305.6 350.0 1304.8 350.1 1305.0 350.1" fill="none" stroke="#ff0000" stroke-width="2"/><path d="M1305.0 350.1C1307.2 350.9 1314.9 353.9 1318.5 355.0C1322.1 356.1 1323.7 356.8 1326.8 356.6C1329.9 356.4 1335.0 354.6 1337.0 354.0C1339.0 353.4 1338.7 353.1 1339.0 352.9" fill="none" stroke="#008000" stroke-width="2"/><path d="M1339.0 352.9 L1346.3 348.8" fill="none" stroke="#0000ff" stroke-width="2"/><path d="M1346.3 348.8C1347.8 347.9 1351.9 346.3 1355.0 343.7C1358.1 341.1 1361.5 336.0 1365.0 333.2C1368.5 330.4 1372.5 328.3 1375.8 326.7C1379.0 325.1 1381.2 323.6 1384.5 323.4C1387.8 323.2 1393.5 325.2 1395.3 325.6C1397.1 326.0 1395.5 325.7 1395.5 325.7" fill="none" stroke="#ff0000" stroke-width="2"/><path d="M1395.5 325.7C1396.8 326.4 1401.8 329.3 1403.0 330.0C1404.2 330.7 1403.0 330.0 1403.0 330.0" fill="none" stroke="#0000ff" stroke-width="2"/><line x1="3" y1="64.5" x2="1563" y2="64.5" stroke="#ff3c3c" stroke-width="1.1" stroke-dasharray="2.3 1.95"/><line x1="3" y1="126.5" x2="1563" y2="126.5" stroke="#ff3c3c" stroke-width="1.1" stroke-dasharray="2.3 1.95"/><line x1="3" y1="186.5" x2="1563" y2="186.5" stroke="#ff3c3c" stroke-width="1.1" stroke-dasharray="2.3 1.95"/><line x1="3" y1="240.5" x2="1563" y2="240.5" stroke="#ff3c3c" stroke-width="1.1" stroke-dasharray="12.8 4.3"/><line x1="3" y1="289.5" x2="1563" y2="289.5" stroke="#ff3c3c" stroke-width="1.1" stroke-dasharray="2.3 1.95"/><line x1="3" y1="321.5" x2="1563" y2="321.5" stroke="#ff3c3c" stroke-width="1.1" stroke-dasharray="2.3 1.95"/><line x1="3" y1="363.5" x2="1563" y2="363.5" stroke="#2020ff" stroke-width="1.1" stroke-dasharray="2.3 1.95"/><line x1="3" y1="389.5" x2="1563" y2="389.5" stroke="#ffa8a8" stroke-width="1.5" stroke-dasharray="12.8 4.3"/><line x1="3" y1="465.5" x2="1563" y2="465.5" stroke="#ff3c3c" stroke-width="1.1" stroke-dasharray="12.8 4.3"/><line x1="3" y1="500.5" x2="1563" y2="500.5" stroke="#ff3c3c" stroke-width="1.1" stroke-dasharray="12.8 4.3"/><line x1="3" y1="525.5" x2="1563" y2="525.5" stroke="#2020ff" stroke-width="1.1" stroke-dasharray="2.3 1.95"/><line x1="3" y1="570.5" x2="1563" y2="570.5" stroke="#ffa8a8" stroke-width="1.5" stroke-dasharray="12.8 4.3"/><path d="M1417.20 465.61 L1454.67 396.79 L1456.17 397.59 L1456.80 390.00 L1450.87 394.78 L1452.37 395.57 L1416.40 465.19Z" fill="#ff3838"/><path d="M1457.16 390.18 L1469.89 366.93 L1471.49 367.76 L1472.00 360.70 L1466.52 365.18 L1468.12 366.01 L1456.44 389.82Z" fill="#ff3838"/><path d="M1416.51 465.74 L1450.61 495.58 L1449.51 496.88 L1456.80 499.10 L1453.38 492.30 L1452.28 493.60 L1417.09 465.06Z" fill="#f08838"/><path d="M1456.56 499.42 L1484.11 520.54 L1483.10 521.91 L1490.00 523.50 L1486.42 517.39 L1485.41 518.76 L1457.04 498.78Z" fill="#f08838"/></g><rect x="3" y="3" width="1561" height="1" fill="#6e6e6e"/><rect x="3" y="3" width="1" height="771" fill="#a0a0a0"/><rect x="1563" y="3" width="1" height="771" fill="#202020"/><rect x="3" y="773" width="1561" height="1" fill="#202020"/><rect x="3" y="775" width="1560" height="1" fill="#c8c8c8"/><rect x="3" y="776" width="1" height="131" fill="#a0a0a0"/><rect x="1563" y="775" width="1" height="132" fill="#202020"/><rect x="3" y="906" width="1561" height="1" fill="#202020"/><path d="M1402 4 H1410 L1406 8 Z" fill="#b4b4b4"/><line x1="1564" y1="28.0" x2="1566" y2="28.0" stroke="#000" stroke-width="1"/><line x1="1564" y1="97.7" x2="1566" y2="97.7" stroke="#000" stroke-width="1"/><line x1="1564" y1="132.6" x2="1566" y2="132.6" stroke="#000" stroke-width="1"/><line x1="1564" y1="167.4" x2="1566" y2="167.4" stroke="#000" stroke-width="1"/><line x1="1564" y1="202.3" x2="1566" y2="202.3" stroke="#000" stroke-width="1"/><line x1="1564" y1="237.1" x2="1566" y2="237.1" stroke="#000" stroke-width="1"/><line x1="1564" y1="272.0" x2="1566" y2="272.0" stroke="#000" stroke-width="1"/><line x1="1564" y1="306.9" x2="1566" y2="306.9" stroke="#000" stroke-width="1"/><line x1="1564" y1="341.7" x2="1566" y2="341.7" stroke="#000" stroke-width="1"/><line x1="1564" y1="376.6" x2="1566" y2="376.6" stroke="#000" stroke-width="1"/><line x1="1564" y1="411.4" x2="1566" y2="411.4" stroke="#000" stroke-width="1"/><line x1="1564" y1="446.3" x2="1566" y2="446.3" stroke="#000" stroke-width="1"/><line x1="1564" y1="481.1" x2="1566" y2="481.1" stroke="#000" stroke-width="1"/><line x1="1564" y1="516.0" x2="1566" y2="516.0" stroke="#000" stroke-width="1"/><line x1="1564" y1="550.9" x2="1566" y2="550.9" stroke="#000" stroke-width="1"/><line x1="1564" y1="585.7" x2="1566" y2="585.7" stroke="#000" stroke-width="1"/><line x1="1564" y1="620.6" x2="1566" y2="620.6" stroke="#000" stroke-width="1"/><line x1="1564" y1="655.4" x2="1566" y2="655.4" stroke="#000" stroke-width="1"/><line x1="1564" y1="690.3" x2="1566" y2="690.3" stroke="#000" stroke-width="1"/><line x1="1564" y1="725.1" x2="1566" y2="725.1" stroke="#000" stroke-width="1"/><line x1="1564" y1="760.0" x2="1566" y2="760.0" stroke="#000" stroke-width="1"/><line x1="1564" y1="62.9" x2="1566" y2="62.9" stroke="#000" stroke-width="1"/><g font-family="Liberation Sans, sans-serif" font-size="9" fill="#000"><text x="1568" y="31.4">115.30</text><text x="1568" y="101.1">112.70</text><text x="1568" y="136.0">111.40</text><text x="1568" y="170.8">110.10</text><text x="1568" y="205.7">108.80</text><text x="1568" y="240.5">107.50</text><text x="1568" y="275.4">106.20</text><text x="1568" y="310.3">104.90</text><text x="1568" y="345.1">103.60</text><text x="1568" y="380.0">102.30</text><text x="1568" y="414.8">101.00</text><text x="1568" y="449.7">99.70</text><text x="1568" y="484.5">98.40</text><text x="1568" y="519.4">97.10</text><text x="1568" y="554.3">95.80</text><text x="1568" y="589.1">94.50</text><text x="1568" y="624.0">93.20</text><text x="1568" y="658.8">91.90</text><text x="1568" y="693.7">90.60</text><text x="1568" y="728.5">89.30</text><text x="1568" y="763.4">88.00</text><text x="1568" y="66.3">114.00</text></g><rect x="1564" y="456" width="30" height="10" fill="#000000"/><text x="1568" y="464.3" font-family="Liberation Sans, sans-serif" font-size="8.9" fill="#fff">99.20</text><rect x="1564" y="60" width="34" height="10" fill="#ff0000"/><text x="1568" y="68.3" font-family="Liberation Sans, sans-serif" font-size="8.9" fill="#fff">113.96</text><rect x="1564" y="122" width="34" height="10" fill="#ff0000"/><text x="1568" y="130.3" font-family="Liberation Sans, sans-serif" font-size="8.9" fill="#fff">111.65</text><rect x="1564" y="182" width="34" height="10" fill="#ff0000"/><text x="1568" y="190.3" font-family="Liberation Sans, sans-serif" font-size="8.9" fill="#fff">109.39</text><rect x="1564" y="236" width="34" height="10" fill="#ff0000"/><text x="1568" y="244.3" font-family="Liberation Sans, sans-serif" font-size="8.9" fill="#fff">107.40</text><rect x="1564" y="285" width="34" height="10" fill="#ff0000"/><text x="1568" y="293.3" font-family="Liberation Sans, sans-serif" font-size="8.9" fill="#fff">105.56</text><rect x="1564" y="317" width="34" height="10" fill="#ff0000"/><text x="1568" y="325.3" font-family="Liberation Sans, sans-serif" font-size="8.9" fill="#fff">104.36</text><rect x="1564" y="359" width="34" height="10" fill="#0000ff"/><text x="1568" y="367.3" font-family="Liberation Sans, sans-serif" font-size="8.9" fill="#fff">102.80</text><rect x="1564" y="385" width="34" height="10" fill="#ff0000"/><text x="1568" y="393.3" font-family="Liberation Sans, sans-serif" font-size="8.9" fill="#fff">101.85</text><rect x="1564" y="461" width="30" height="10" fill="#ff0000"/><text x="1568" y="469.3" font-family="Liberation Sans, sans-serif" font-size="8.9" fill="#fff">99.00</text><rect x="1564" y="496" width="30" height="10" fill="#ff0000"/><text x="1568" y="504.3" font-family="Liberation Sans, sans-serif" font-size="8.9" fill="#fff">97.70</text><rect x="1564" y="521" width="30" height="10" fill="#0000ff"/><text x="1568" y="529.3" font-family="Liberation Sans, sans-serif" font-size="8.9" fill="#fff">96.75</text><rect x="1564" y="566" width="30" height="10" fill="#ff0000"/><text x="1568" y="574.3" font-family="Liberation Sans, sans-serif" font-size="8.9" fill="#fff">95.10</text><text x="6.8" y="13.9" font-family="Liberation Sans, sans-serif" font-size="8.6" fill="#000" textLength="51" lengthAdjust="spacingAndGlyphs">Dollar,Weekly</text><text x="63.8" y="13.9" font-family="Liberation Sans, sans-serif" font-size="8.6" fill="#000" textLength="98.8" lengthAdjust="spacingAndGlyphs">98.01 99.59 97.66 99.20</text><text x="7" y="785.8" font-family="Liberation Sans, sans-serif" font-size="8.6" fill="#000" textLength="116" lengthAdjust="spacingAndGlyphs">MACD(12,26,9) -1.387 -0.229</text><line x1="1563" y1="776" x2="1566" y2="776" stroke="#000" stroke-width="1"/><line x1="1563" y1="856" x2="1566" y2="856" stroke="#000" stroke-width="1"/><line x1="1563" y1="906" x2="1566" y2="906" stroke="#000" stroke-width="1"/><text x="1566" y="785.2" font-family="Liberation Sans, sans-serif" font-size="9">3.357</text><text x="1566" y="858.8" font-family="Liberation Sans, sans-serif" font-size="9">0.00</text><text x="1565.9" y="903.8" font-family="Liberation Sans, sans-serif" font-size="9">-2.116</text><line x1="3.5" y1="906" x2="3.5" y2="909" stroke="#202020" stroke-width="1"/><line x1="71.6" y1="906" x2="71.6" y2="909" stroke="#202020" stroke-width="1"/><line x1="139.7" y1="906" x2="139.7" y2="909" stroke="#202020" stroke-width="1"/><line x1="207.8" y1="906" x2="207.8" y2="909" stroke="#202020" stroke-width="1"/><line x1="275.9" y1="906" x2="275.9" y2="909" stroke="#202020" stroke-width="1"/><line x1="344.0" y1="906" x2="344.0" y2="909" stroke="#202020" stroke-width="1"/><line x1="412.1" y1="906" x2="412.1" y2="909" stroke="#202020" stroke-width="1"/><line x1="480.2" y1="906" x2="480.2" y2="909" stroke="#202020" stroke-width="1"/><line x1="548.3" y1="906" x2="548.3" y2="909" stroke="#202020" stroke-width="1"/><line x1="616.4" y1="906" x2="616.4" y2="909" stroke="#202020" stroke-width="1"/><line x1="684.5" y1="906" x2="684.5" y2="909" stroke="#202020" stroke-width="1"/><line x1="752.6" y1="906" x2="752.6" y2="909" stroke="#202020" stroke-width="1"/><line x1="820.7" y1="906" x2="820.7" y2="909" stroke="#202020" stroke-width="1"/><line x1="888.8" y1="906" x2="888.8" y2="909" stroke="#202020" stroke-width="1"/><line x1="956.9" y1="906" x2="956.9" y2="909" stroke="#202020" stroke-width="1"/><line x1="1025.0" y1="906" x2="1025.0" y2="909" stroke="#202020" stroke-width="1"/><line x1="1093.1" y1="906" x2="1093.1" y2="909" stroke="#202020" stroke-width="1"/><line x1="1161.2" y1="906" x2="1161.2" y2="909" stroke="#202020" stroke-width="1"/><line x1="1229.3" y1="906" x2="1229.3" y2="909" stroke="#202020" stroke-width="1"/><line x1="1297.4" y1="906" x2="1297.4" y2="909" stroke="#202020" stroke-width="1"/><line x1="1365.5" y1="906" x2="1365.5" y2="909" stroke="#202020" stroke-width="1"/><g font-family="Liberation Sans, sans-serif" font-size="9" fill="#000"><text x="3.0" y="917" textLength="49" lengthAdjust="spacingAndGlyphs">25 Oct 2015</text><text x="71.1" y="917" textLength="48.5" lengthAdjust="spacingAndGlyphs">10 Apr 2016</text><text x="139.2" y="917" textLength="44" lengthAdjust="spacingAndGlyphs">9 Oct 2016</text><text x="207.3" y="917" textLength="48" lengthAdjust="spacingAndGlyphs">26 Mar 2017</text><text x="275.4" y="917" textLength="50" lengthAdjust="spacingAndGlyphs">10 Sep 2017</text><text x="343.5" y="917" textLength="49" lengthAdjust="spacingAndGlyphs">25 Feb 2018</text><text x="411.6" y="917" textLength="50" lengthAdjust="spacingAndGlyphs">12 Aug 2018</text><text x="479.7" y="917" textLength="47" lengthAdjust="spacingAndGlyphs">27 Jan 2019</text><text x="547.8" y="917" textLength="44" lengthAdjust="spacingAndGlyphs">14 Jul 2019</text><text x="615.9" y="917" textLength="49" lengthAdjust="spacingAndGlyphs">29 Dec 2019</text><text x="684.0" y="917" textLength="48" lengthAdjust="spacingAndGlyphs">14 Jun 2020</text><text x="752.1" y="917" textLength="49" lengthAdjust="spacingAndGlyphs">29 Nov 2020</text><text x="820.2" y="917" textLength="48" lengthAdjust="spacingAndGlyphs">16 May 2021</text><text x="888.3" y="917" textLength="48" lengthAdjust="spacingAndGlyphs">31 Oct 2021</text><text x="956.4" y="917" textLength="48.5" lengthAdjust="spacingAndGlyphs">17 Apr 2022</text><text x="1024.5" y="917" textLength="44" lengthAdjust="spacingAndGlyphs">2 Oct 2022</text><text x="1092.6" y="917" textLength="47" lengthAdjust="spacingAndGlyphs">19 Mar 2023</text><text x="1160.7" y="917" textLength="45" lengthAdjust="spacingAndGlyphs">3 Sep 2023</text><text x="1228.8" y="917" textLength="48" lengthAdjust="spacingAndGlyphs">18 Feb 2024</text><text x="1296.9" y="917" textLength="45" lengthAdjust="spacingAndGlyphs">4 Aug 2024</text><text x="1365.0" y="917" textLength="47" lengthAdjust="spacingAndGlyphs">19 Jan 2025</text></g><g clip-path="url(#sc)"><path d="M2.65 844.2h1.7V856h-1.7ZM5.49 839.1h1.7V856h-1.7ZM8.33 835.4h1.7V856h-1.7ZM11.16 831.8h1.7V856h-1.7ZM14.00 828.4h1.7V856h-1.7ZM16.84 829.5h1.7V856h-1.7ZM19.67 831.8h1.7V856h-1.7ZM22.51 832.0h1.7V856h-1.7ZM25.35 833.9h1.7V856h-1.7ZM28.19 834.1h1.7V856h-1.7ZM31.02 835.1h1.7V856h-1.7ZM33.86 835.2h1.7V856h-1.7ZM36.70 834.2h1.7V856h-1.7ZM39.54 833.8h1.7V856h-1.7ZM42.38 838.5h1.7V856h-1.7ZM45.21 844.3h1.7V856h-1.7ZM48.05 847.8h1.7V856h-1.7ZM50.89 847.7h1.7V856h-1.7ZM53.72 849.5h1.7V856h-1.7ZM56.56 852.9h1.7V856h-1.7ZM59.40 856h1.7V857.8h-1.7ZM62.24 856h1.7V859.4h-1.7ZM65.08 856h1.7V863.7h-1.7ZM67.91 856h1.7V867.6h-1.7ZM70.75 856h1.7V869.7h-1.7ZM73.59 856h1.7V870.4h-1.7ZM76.42 856h1.7V874.7h-1.7ZM79.26 856h1.7V876.3h-1.7ZM82.10 856h1.7V876.0h-1.7ZM84.94 856h1.7V874.1h-1.7ZM87.78 856h1.7V871.6h-1.7ZM90.61 856h1.7V873.0h-1.7ZM93.45 856h1.7V872.5h-1.7ZM96.29 856h1.7V872.8h-1.7ZM99.12 856h1.7V870.3h-1.7ZM101.96 856h1.7V867.1h-1.7ZM104.80 856h1.7V861.9h-1.7ZM107.64 856h1.7V861.1h-1.7ZM110.48 856h1.7V859.2h-1.7ZM113.31 856h1.7V858.7h-1.7ZM116.15 856h1.7V860.5h-1.7ZM118.99 856h1.7V860.1h-1.7ZM121.83 856h1.7V860.1h-1.7ZM124.66 856h1.7V859.0h-1.7ZM127.50 856h1.7V859.2h-1.7ZM130.34 856h1.7V858.0h-1.7ZM133.18 856h1.7V858.0h-1.7ZM136.01 856h1.7V856.0h-1.7ZM138.85 851.4h1.7V856h-1.7ZM141.69 846.8h1.7V856h-1.7ZM144.53 844.0h1.7V856h-1.7ZM147.36 843.9h1.7V856h-1.7ZM150.20 840.3h1.7V856h-1.7ZM153.04 833.5h1.7V856h-1.7ZM155.88 828.6h1.7V856h-1.7ZM158.71 825.0h1.7V856h-1.7ZM161.55 822.1h1.7V856h-1.7ZM164.39 817.9h1.7V856h-1.7ZM167.22 814.8h1.7V856h-1.7ZM170.06 813.9h1.7V856h-1.7ZM172.90 814.0h1.7V856h-1.7ZM175.74 816.0h1.7V856h-1.7ZM178.57 819.6h1.7V856h-1.7ZM181.41 823.1h1.7V856h-1.7ZM184.25 827.6h1.7V856h-1.7ZM187.09 829.2h1.7V856h-1.7ZM189.93 831.0h1.7V856h-1.7ZM192.76 831.8h1.7V856h-1.7ZM195.60 832.5h1.7V856h-1.7ZM198.44 833.5h1.7V856h-1.7ZM201.28 836.4h1.7V856h-1.7ZM204.11 840.8h1.7V856h-1.7ZM206.95 842.2h1.7V856h-1.7ZM209.79 842.0h1.7V856h-1.7ZM212.62 843.4h1.7V856h-1.7ZM215.46 847.9h1.7V856h-1.7ZM218.30 851.1h1.7V856h-1.7ZM221.14 853.7h1.7V856h-1.7ZM223.97 856h1.7V856.4h-1.7ZM226.81 856h1.7V861.4h-1.7ZM229.65 856h1.7V864.9h-1.7ZM232.49 856h1.7V868.5h-1.7ZM235.32 856h1.7V870.3h-1.7ZM238.16 856h1.7V872.0h-1.7ZM241.00 856h1.7V872.7h-1.7ZM243.84 856h1.7V876.2h-1.7ZM246.68 856h1.7V877.9h-1.7ZM249.51 856h1.7V880.7h-1.7ZM252.35 856h1.7V885.0h-1.7ZM255.19 856h1.7V889.1h-1.7ZM258.02 856h1.7V891.7h-1.7ZM260.86 856h1.7V894.1h-1.7ZM263.70 856h1.7V894.5h-1.7ZM266.54 856h1.7V896.7h-1.7ZM269.37 856h1.7V898.2h-1.7ZM272.21 856h1.7V899.3h-1.7ZM275.05 856h1.7V900.8h-1.7ZM277.89 856h1.7V899.0h-1.7ZM280.72 856h1.7V895.2h-1.7ZM283.56 856h1.7V892.2h-1.7ZM286.40 856h1.7V890.2h-1.7ZM289.24 856h1.7V886.9h-1.7ZM292.07 856h1.7V881.7h-1.7ZM294.91 856h1.7V878.4h-1.7ZM297.75 856h1.7V874.6h-1.7ZM300.59 856h1.7V874.2h-1.7ZM303.42 856h1.7V875.0h-1.7ZM306.26 856h1.7V874.4h-1.7ZM309.10 856h1.7V873.1h-1.7ZM311.94 856h1.7V871.8h-1.7ZM314.77 856h1.7V871.1h-1.7ZM317.61 856h1.7V872.8h-1.7ZM320.45 856h1.7V874.1h-1.7ZM323.29 856h1.7V877.0h-1.7ZM326.12 856h1.7V880.0h-1.7ZM328.96 856h1.7V884.7h-1.7ZM331.80 856h1.7V887.5h-1.7ZM334.64 856h1.7V887.4h-1.7ZM337.47 856h1.7V889.3h-1.7ZM340.31 856h1.7V888.1h-1.7ZM343.15 856h1.7V887.4h-1.7ZM345.99 856h1.7V886.2h-1.7ZM348.82 856h1.7V884.9h-1.7ZM351.66 856h1.7V885.0h-1.7ZM354.50 856h1.7V883.3h-1.7ZM357.34 856h1.7V881.7h-1.7ZM360.17 856h1.7V880.7h-1.7ZM363.01 856h1.7V878.8h-1.7ZM365.85 856h1.7V874.7h-1.7ZM368.69 856h1.7V869.3h-1.7ZM371.52 856h1.7V865.1h-1.7ZM374.36 856h1.7V859.4h-1.7ZM377.20 854.3h1.7V856h-1.7ZM380.04 850.0h1.7V856h-1.7ZM382.87 847.9h1.7V856h-1.7ZM385.71 843.9h1.7V856h-1.7ZM388.55 841.7h1.7V856h-1.7ZM391.39 839.9h1.7V856h-1.7ZM394.22 838.3h1.7V856h-1.7ZM397.06 838.7h1.7V856h-1.7ZM399.90 837.8h1.7V856h-1.7ZM402.74 837.7h1.7V856h-1.7ZM405.57 836.5h1.7V856h-1.7ZM408.41 833.6h1.7V856h-1.7ZM411.25 832.2h1.7V856h-1.7ZM414.09 833.2h1.7V856h-1.7ZM416.92 834.1h1.7V856h-1.7ZM419.76 834.7h1.7V856h-1.7ZM422.60 836.2h1.7V856h-1.7ZM425.44 838.9h1.7V856h-1.7ZM428.27 839.6h1.7V856h-1.7ZM431.11 839.3h1.7V856h-1.7ZM433.95 839.8h1.7V856h-1.7ZM436.79 839.8h1.7V856h-1.7ZM439.62 838.7h1.7V856h-1.7ZM442.46 836.7h1.7V856h-1.7ZM445.30 836.7h1.7V856h-1.7ZM448.14 835.7h1.7V856h-1.7ZM450.97 835.3h1.7V856h-1.7ZM453.81 834.9h1.7V856h-1.7ZM456.65 835.6h1.7V856h-1.7ZM459.49 835.0h1.7V856h-1.7ZM462.32 835.7h1.7V856h-1.7ZM465.16 837.5h1.7V856h-1.7ZM468.00 839.6h1.7V856h-1.7ZM470.84 842.2h1.7V856h-1.7ZM473.67 843.2h1.7V856h-1.7ZM476.51 845.4h1.7V856h-1.7ZM479.35 847.1h1.7V856h-1.7ZM482.19 846.8h1.7V856h-1.7ZM485.02 846.3h1.7V856h-1.7ZM487.86 846.8h1.7V856h-1.7ZM490.70 847.4h1.7V856h-1.7ZM493.54 846.2h1.7V856h-1.7ZM496.37 846.8h1.7V856h-1.7ZM499.21 847.2h1.7V856h-1.7ZM502.05 846.6h1.7V856h-1.7ZM504.89 845.9h1.7V856h-1.7ZM507.72 846.4h1.7V856h-1.7ZM510.56 846.1h1.7V856h-1.7ZM513.40 844.6h1.7V856h-1.7ZM516.24 844.6h1.7V856h-1.7ZM519.07 845.1h1.7V856h-1.7ZM521.91 844.3h1.7V856h-1.7ZM524.75 844.6h1.7V856h-1.7ZM527.59 844.7h1.7V856h-1.7ZM530.42 846.7h1.7V856h-1.7ZM533.26 847.0h1.7V856h-1.7ZM536.10 849.8h1.7V856h-1.7ZM538.94 851.9h1.7V856h-1.7ZM541.77 851.7h1.7V856h-1.7ZM544.61 852.6h1.7V856h-1.7ZM547.45 852.5h1.7V856h-1.7ZM550.29 851.1h1.7V856h-1.7ZM553.12 849.7h1.7V856h-1.7ZM555.96 849.7h1.7V856h-1.7ZM558.80 848.6h1.7V856h-1.7ZM561.64 849.0h1.7V856h-1.7ZM564.47 846.9h1.7V856h-1.7ZM567.31 846.2h1.7V856h-1.7ZM570.15 846.4h1.7V856h-1.7ZM572.99 845.9h1.7V856h-1.7ZM575.82 844.7h1.7V856h-1.7ZM578.66 844.2h1.7V856h-1.7ZM581.50 844.8h1.7V856h-1.7ZM584.34 847.4h1.7V856h-1.7ZM587.17 848.5h1.7V856h-1.7ZM590.01 850.7h1.7V856h-1.7ZM592.85 850.2h1.7V856h-1.7ZM595.69 850.8h1.7V856h-1.7ZM598.52 850.7h1.7V856h-1.7ZM601.36 850.6h1.7V856h-1.7ZM604.20 851.7h1.7V856h-1.7ZM607.04 853.7h1.7V856h-1.7ZM609.88 854.2h1.7V856h-1.7ZM612.71 856h1.7V856.1h-1.7ZM615.55 856h1.7V857.7h-1.7ZM618.39 856h1.7V857.8h-1.7ZM621.22 856h1.7V857.6h-1.7ZM624.06 856h1.7V856.9h-1.7ZM626.90 856h1.7V857.2h-1.7ZM629.74 855.1h1.7V856h-1.7ZM632.57 852.6h1.7V856h-1.7ZM635.41 850.1h1.7V856h-1.7ZM638.25 851.0h1.7V856h-1.7ZM641.09 856h1.7V856.4h-1.7ZM643.92 854.5h1.7V856h-1.7ZM646.76 845.3h1.7V856h-1.7ZM649.60 846.5h1.7V856h-1.7ZM652.44 843.5h1.7V856h-1.7ZM655.27 843.2h1.7V856h-1.7ZM658.11 842.6h1.7V856h-1.7ZM660.95 841.5h1.7V856h-1.7ZM663.79 842.7h1.7V856h-1.7ZM666.62 841.6h1.7V856h-1.7ZM669.46 841.0h1.7V856h-1.7ZM672.30 841.7h1.7V856h-1.7ZM675.14 845.6h1.7V856h-1.7ZM677.97 851.2h1.7V856h-1.7ZM680.81 854.8h1.7V856h-1.7ZM683.65 856h1.7V857.0h-1.7ZM686.49 856h1.7V859.3h-1.7ZM689.32 856h1.7V860.5h-1.7ZM692.16 856h1.7V863.3h-1.7ZM695.00 856h1.7V866.7h-1.7ZM697.84 856h1.7V872.2h-1.7ZM700.67 856h1.7V878.2h-1.7ZM703.51 856h1.7V882.1h-1.7ZM706.35 856h1.7V885.5h-1.7ZM709.19 856h1.7V888.0h-1.7ZM712.02 856h1.7V891.4h-1.7ZM714.86 856h1.7V892.6h-1.7ZM717.70 856h1.7V892.4h-1.7ZM720.54 856h1.7V892.3h-1.7ZM723.38 856h1.7V888.7h-1.7ZM726.21 856h1.7V886.9h-1.7ZM729.05 856h1.7V886.6h-1.7ZM731.89 856h1.7V884.8h-1.7ZM734.72 856h1.7V884.8h-1.7ZM737.56 856h1.7V882.0h-1.7ZM740.40 856h1.7V883.2h-1.7ZM743.24 856h1.7V882.9h-1.7ZM746.07 856h1.7V883.2h-1.7ZM748.91 856h1.7V884.1h-1.7ZM751.75 856h1.7V886.1h-1.7ZM754.59 856h1.7V887.5h-1.7ZM757.42 856h1.7V888.7h-1.7ZM760.26 856h1.7V889.9h-1.7ZM763.10 856h1.7V891.2h-1.7ZM765.94 856h1.7V890.8h-1.7ZM768.77 856h1.7V889.1h-1.7ZM771.61 856h1.7V888.5h-1.7ZM774.45 856h1.7V887.0h-1.7ZM777.29 856h1.7V884.7h-1.7ZM780.12 856h1.7V883.7h-1.7ZM782.96 856h1.7V882.8h-1.7ZM785.80 856h1.7V880.8h-1.7ZM788.64 856h1.7V877.0h-1.7ZM791.47 856h1.7V874.0h-1.7ZM794.31 856h1.7V870.8h-1.7ZM797.15 856h1.7V866.9h-1.7ZM799.99 856h1.7V863.2h-1.7ZM802.82 856h1.7V861.8h-1.7ZM805.66 856h1.7V861.7h-1.7ZM808.50 856h1.7V863.0h-1.7ZM811.34 856h1.7V863.1h-1.7ZM814.17 856h1.7V865.2h-1.7ZM817.01 856h1.7V866.4h-1.7ZM819.85 856h1.7V867.8h-1.7ZM822.69 856h1.7V868.6h-1.7ZM825.52 856h1.7V868.8h-1.7ZM828.36 856h1.7V868.4h-1.7ZM831.20 856h1.7V864.6h-1.7ZM834.04 856h1.7V862.5h-1.7ZM836.88 856h1.7V859.8h-1.7ZM839.71 856h1.7V858.0h-1.7ZM842.55 855.3h1.7V856h-1.7ZM845.39 852.9h1.7V856h-1.7ZM848.22 852.6h1.7V856h-1.7ZM851.06 851.1h1.7V856h-1.7ZM853.90 850.5h1.7V856h-1.7ZM856.74 848.3h1.7V856h-1.7ZM859.57 848.5h1.7V856h-1.7ZM862.41 849.5h1.7V856h-1.7ZM865.25 849.3h1.7V856h-1.7ZM868.09 848.1h1.7V856h-1.7ZM870.92 847.1h1.7V856h-1.7ZM873.76 845.0h1.7V856h-1.7ZM876.60 843.5h1.7V856h-1.7ZM879.44 842.7h1.7V856h-1.7ZM882.27 842.7h1.7V856h-1.7ZM885.11 842.1h1.7V856h-1.7ZM887.95 841.5h1.7V856h-1.7ZM890.79 839.6h1.7V856h-1.7ZM893.62 836.5h1.7V856h-1.7ZM896.46 833.7h1.7V856h-1.7ZM899.30 832.1h1.7V856h-1.7ZM902.14 831.3h1.7V856h-1.7ZM904.97 829.8h1.7V856h-1.7ZM907.81 830.0h1.7V856h-1.7ZM910.65 831.2h1.7V856h-1.7ZM913.49 832.4h1.7V856h-1.7ZM916.32 834.7h1.7V856h-1.7ZM919.16 836.1h1.7V856h-1.7ZM922.00 834.1h1.7V856h-1.7ZM924.84 835.9h1.7V856h-1.7ZM927.67 836.8h1.7V856h-1.7ZM930.51 837.5h1.7V856h-1.7ZM933.35 837.4h1.7V856h-1.7ZM936.19 833.8h1.7V856h-1.7ZM939.02 830.2h1.7V856h-1.7ZM941.86 829.2h1.7V856h-1.7ZM944.70 827.9h1.7V856h-1.7ZM947.54 827.1h1.7V856h-1.7ZM950.38 824.8h1.7V856h-1.7ZM953.21 822.1h1.7V856h-1.7ZM956.05 819.2h1.7V856h-1.7ZM958.89 813.3h1.7V856h-1.7ZM961.72 808.4h1.7V856h-1.7ZM964.56 803.6h1.7V856h-1.7ZM967.40 803.1h1.7V856h-1.7ZM970.24 805.6h1.7V856h-1.7ZM973.07 807.5h1.7V856h-1.7ZM975.91 805.7h1.7V856h-1.7ZM978.75 804.1h1.7V856h-1.7ZM981.59 804.2h1.7V856h-1.7ZM984.42 803.1h1.7V856h-1.7ZM987.26 799.5h1.7V856h-1.7ZM990.10 797.1h1.7V856h-1.7ZM992.94 796.7h1.7V856h-1.7ZM995.77 798.6h1.7V856h-1.7ZM998.61 799.3h1.7V856h-1.7ZM1001.45 802.1h1.7V856h-1.7ZM1004.29 800.3h1.7V856h-1.7ZM1007.12 798.2h1.7V856h-1.7ZM1009.96 795.8h1.7V856h-1.7ZM1012.80 795.8h1.7V856h-1.7ZM1015.64 795.2h1.7V856h-1.7ZM1018.47 789.0h1.7V856h-1.7ZM1021.31 786.5h1.7V856h-1.7ZM1024.15 784.2h1.7V856h-1.7ZM1026.99 782.3h1.7V856h-1.7ZM1029.83 784.4h1.7V856h-1.7ZM1032.66 789.0h1.7V856h-1.7ZM1035.50 793.2h1.7V856h-1.7ZM1038.34 805.4h1.7V856h-1.7ZM1041.17 814.5h1.7V856h-1.7ZM1044.01 823.8h1.7V856h-1.7ZM1046.85 834.5h1.7V856h-1.7ZM1049.69 842.3h1.7V856h-1.7ZM1052.53 848.8h1.7V856h-1.7ZM1055.36 854.9h1.7V856h-1.7ZM1058.20 856h1.7V861.2h-1.7ZM1061.04 856h1.7V865.3h-1.7ZM1063.88 856h1.7V871.8h-1.7ZM1066.71 856h1.7V877.0h-1.7ZM1069.55 856h1.7V880.8h-1.7ZM1072.39 856h1.7V881.6h-1.7ZM1075.23 856h1.7V880.8h-1.7ZM1078.06 856h1.7V879.3h-1.7ZM1080.90 856h1.7V875.3h-1.7ZM1083.74 856h1.7V873.4h-1.7ZM1086.58 856h1.7V871.5h-1.7ZM1089.41 856h1.7V871.2h-1.7ZM1092.25 856h1.7V872.3h-1.7ZM1095.09 856h1.7V873.8h-1.7ZM1097.92 856h1.7V875.8h-1.7ZM1100.76 856h1.7V878.2h-1.7ZM1103.60 856h1.7V879.4h-1.7ZM1106.44 856h1.7V881.1h-1.7ZM1109.28 856h1.7V881.4h-1.7ZM1112.11 856h1.7V879.3h-1.7ZM1114.95 856h1.7V876.5h-1.7ZM1117.79 856h1.7V872.0h-1.7ZM1120.62 856h1.7V868.7h-1.7ZM1123.46 856h1.7V867.2h-1.7ZM1126.30 856h1.7V868.1h-1.7ZM1129.14 856h1.7V867.5h-1.7ZM1131.98 856h1.7V866.8h-1.7ZM1134.81 856h1.7V867.3h-1.7ZM1137.65 856h1.7V872.0h-1.7ZM1140.49 856h1.7V873.3h-1.7ZM1143.33 856h1.7V872.4h-1.7ZM1146.16 856h1.7V870.2h-1.7ZM1149.00 856h1.7V868.1h-1.7ZM1151.84 856h1.7V865.1h-1.7ZM1154.67 856h1.7V861.3h-1.7ZM1157.51 856h1.7V858.0h-1.7ZM1160.35 854.0h1.7V856h-1.7ZM1163.19 850.6h1.7V856h-1.7ZM1166.03 847.2h1.7V856h-1.7ZM1168.86 843.6h1.7V856h-1.7ZM1171.70 840.9h1.7V856h-1.7ZM1174.54 838.0h1.7V856h-1.7ZM1177.38 837.0h1.7V856h-1.7ZM1180.21 835.5h1.7V856h-1.7ZM1183.05 837.5h1.7V856h-1.7ZM1185.89 837.8h1.7V856h-1.7ZM1188.73 842.0h1.7V856h-1.7ZM1191.56 846.4h1.7V856h-1.7ZM1194.40 850.3h1.7V856h-1.7ZM1197.24 851.9h1.7V856h-1.7ZM1200.08 856h1.7V857.3h-1.7ZM1202.91 856h1.7V860.5h-1.7ZM1205.75 856h1.7V864.9h-1.7ZM1208.59 856h1.7V866.1h-1.7ZM1211.42 856h1.7V866.8h-1.7ZM1214.26 856h1.7V865.9h-1.7ZM1217.10 856h1.7V864.6h-1.7ZM1219.94 856h1.7V862.6h-1.7ZM1222.78 856h1.7V860.6h-1.7ZM1225.61 856h1.7V858.8h-1.7ZM1228.45 856h1.7V857.6h-1.7ZM1231.29 856h1.7V857.0h-1.7ZM1234.12 856h1.7V858.9h-1.7ZM1236.96 856h1.7V858.9h-1.7ZM1239.80 856h1.7V856.9h-1.7ZM1242.64 855.2h1.7V856h-1.7ZM1245.48 854.3h1.7V856h-1.7ZM1248.31 850.4h1.7V856h-1.7ZM1251.15 847.2h1.7V856h-1.7ZM1253.99 845.0h1.7V856h-1.7ZM1256.83 845.1h1.7V856h-1.7ZM1259.66 845.1h1.7V856h-1.7ZM1262.50 846.6h1.7V856h-1.7ZM1265.34 847.4h1.7V856h-1.7ZM1268.17 848.3h1.7V856h-1.7ZM1271.01 848.7h1.7V856h-1.7ZM1273.85 847.9h1.7V856h-1.7ZM1276.69 847.0h1.7V856h-1.7ZM1279.53 846.6h1.7V856h-1.7ZM1282.36 847.3h1.7V856h-1.7ZM1285.20 849.8h1.7V856h-1.7ZM1288.04 851.4h1.7V856h-1.7ZM1290.88 852.7h1.7V856h-1.7ZM1293.71 855.9h1.7V856h-1.7ZM1296.55 856h1.7V859.5h-1.7ZM1299.39 856h1.7V862.8h-1.7ZM1302.23 856h1.7V868.5h-1.7ZM1305.06 856h1.7V870.8h-1.7ZM1307.90 856h1.7V873.6h-1.7ZM1310.74 856h1.7V875.3h-1.7ZM1313.58 856h1.7V877.4h-1.7ZM1316.41 856h1.7V879.4h-1.7ZM1319.25 856h1.7V876.5h-1.7ZM1322.09 856h1.7V873.3h-1.7ZM1324.92 856h1.7V869.7h-1.7ZM1327.76 856h1.7V865.2h-1.7ZM1330.60 856h1.7V861.4h-1.7ZM1333.44 856h1.7V857.3h-1.7ZM1336.28 850.7h1.7V856h-1.7ZM1339.11 844.2h1.7V856h-1.7ZM1341.95 842.5h1.7V856h-1.7ZM1344.79 840.9h1.7V856h-1.7ZM1347.62 838.0h1.7V856h-1.7ZM1350.46 834.3h1.7V856h-1.7ZM1353.30 830.9h1.7V856h-1.7ZM1356.14 827.2h1.7V856h-1.7ZM1358.98 823.2h1.7V856h-1.7ZM1361.81 820.9h1.7V856h-1.7ZM1364.65 823.2h1.7V856h-1.7ZM1367.49 823.4h1.7V856h-1.7ZM1370.33 824.7h1.7V856h-1.7ZM1373.16 828.5h1.7V856h-1.7ZM1376.00 832.1h1.7V856h-1.7ZM1378.84 834.2h1.7V856h-1.7ZM1381.67 843.1h1.7V856h-1.7ZM1384.51 850.4h1.7V856h-1.7ZM1387.35 855.5h1.7V856h-1.7ZM1390.19 856h1.7V860.1h-1.7ZM1393.03 856h1.7V865.1h-1.7ZM1395.86 856h1.7V875.1h-1.7ZM1398.70 856h1.7V883.4h-1.7ZM1401.54 856h1.7V889.2h-1.7Z" fill="#808080"/><polyline points="3.5,844.2 6.3,841.6 9.2,839.5 12.0,837.6 14.8,835.8 17.7,834.7 20.5,834.3 23.4,834.0 26.2,834.0 29.0,832.9 31.9,832.5 34.7,832.4 37.5,832.7 40.4,833.3 43.2,834.3 46.1,835.7 48.9,837.4 51.7,839.0 54.6,840.7 57.4,842.6 60.2,845.2 63.1,848.0 65.9,851.3 68.8,854.5 71.6,857.3 74.4,859.9 77.3,862.9 80.1,865.8 83.0,868.4 85.8,870.2 88.6,871.6 91.5,872.6 94.3,873.2 97.1,873.5 100.0,873.5 102.8,872.7 105.6,871.1 108.5,869.4 111.3,867.7 114.2,866.3 117.0,864.9 119.8,863.5 122.7,862.1 125.5,860.9 128.3,860.0 131.2,859.5 134.0,859.2 136.9,858.8 139.7,858.0 142.5,856.5 145.4,854.7 148.2,852.9 151.0,850.8 153.9,848.0 156.7,844.7 159.6,841.1 162.4,837.3 165.2,833.6 168.1,830.0 170.9,826.7 173.8,823.3 176.6,820.7 179.4,819.1 182.3,818.5 185.1,818.8 187.9,819.6 190.8,821.0 193.6,822.9 196.4,825.0 199.3,827.1 202.1,829.4 205.0,831.8 207.8,833.9 210.6,835.5 213.5,837.1 216.3,838.9 219.2,841.1 222.0,843.4 224.8,846.0 227.7,848.8 230.5,851.4 233.3,854.4 236.2,857.5 239.0,860.7 241.8,863.4 244.7,866.2 247.5,868.9 250.4,871.6 253.2,874.2 256.0,876.9 258.9,879.5 261.7,882.2 264.6,884.6 267.4,887.3 270.2,889.8 273.1,892.1 275.9,894.4 278.7,895.9 281.6,896.6 284.4,896.7 287.2,896.2 290.1,895.4 292.9,893.7 295.8,891.5 298.6,888.8 301.4,885.8 304.3,883.2 307.1,880.8 309.9,878.7 312.8,876.7 315.6,874.9 318.5,873.9 321.3,873.5 324.1,873.7 327.0,874.4 329.8,875.4 332.6,876.9 335.5,878.5 338.3,880.4 341.2,882.3 344.0,883.9 346.8,885.3 349.7,886.1 352.5,886.7 355.3,886.6 358.2,885.9 361.0,885.2 363.9,884.0 366.7,882.5 369.5,880.5 372.4,878.2 375.2,875.3 378.1,871.9 380.9,868.2 383.7,864.5 386.6,860.4 389.4,856.2 392.2,852.4 395.1,848.9 397.9,846.0 400.8,843.6 403.6,841.8 406.4,840.3 409.3,838.7 412.1,837.4 414.9,836.4 417.8,835.8 420.6,835.4 423.4,835.1 426.3,835.2 429.1,835.4 432.0,835.7 434.8,836.4 437.6,837.3 440.5,837.9 443.3,838.2 446.1,838.4 449.0,838.4 451.8,838.0 454.7,837.4 457.5,837.0 460.3,836.5 463.2,836.0 466.0,835.9 468.8,836.2 471.7,836.8 474.5,837.7 477.4,838.8 480.2,840.2 483.0,841.4 485.9,842.7 488.7,843.9 491.6,845.0 494.4,845.7 497.2,846.2 500.1,846.7 502.9,846.8 505.7,846.7 508.6,846.6 511.4,846.6 514.2,846.4 517.1,846.0 519.9,845.9 522.8,845.7 525.6,845.4 528.4,845.2 531.3,845.2 534.1,845.3 536.9,845.7 539.8,846.5 542.6,847.3 545.5,848.1 548.3,849.1 551.1,849.8 554.0,850.3 556.8,850.7 559.6,850.8 562.5,850.7 565.3,850.2 568.2,849.6 571.0,848.9 573.8,848.2 576.7,847.4 579.5,846.8 582.4,846.3 585.2,846.2 588.0,846.1 590.9,846.5 593.7,847.0 596.5,847.5 599.4,848.0 602.2,848.7 605.0,849.5 607.9,850.5 610.7,851.2 613.6,852.1 616.4,852.9 619.2,853.7 622.1,854.5 624.9,855.1 627.8,855.9 630.6,856.3 633.4,856.1 636.3,855.7 639.1,855.1 641.9,855.0 644.8,854.6 647.6,853.2 650.4,852.1 653.3,850.5 656.1,849.2 659.0,848.1 661.8,847.2 664.6,846.2 667.5,844.6 670.3,843.1 673.1,842.7 676.0,842.6 678.8,843.5 681.7,844.8 684.5,846.3 687.3,848.3 690.2,850.3 693.0,852.7 695.9,855.6 698.7,858.9 701.5,862.6 704.4,866.0 707.2,869.4 710.0,872.9 712.9,876.4 715.7,880.0 718.5,883.2 721.4,886.1 724.2,887.9 727.1,888.9 729.9,889.4 732.7,889.3 735.6,889.0 738.4,887.9 741.2,886.9 744.1,885.8 746.9,884.8 749.8,884.3 752.6,884.2 755.4,884.3 758.3,884.7 761.1,885.3 763.9,886.3 766.8,887.2 769.6,887.9 772.5,888.4 775.3,888.8 778.1,888.6 781.0,888.2 783.8,887.5 786.6,886.5 789.5,885.0 792.3,883.1 795.2,881.1 798.0,878.6 800.8,876.0 803.7,873.5 806.5,871.0 809.4,868.8 812.2,866.8 815.0,865.5 817.9,864.7 820.7,864.4 823.5,864.5 826.4,865.2 829.2,865.9 832.0,866.2 834.9,866.2 837.7,865.8 840.6,865.0 843.4,863.7 846.2,862.1 849.1,860.3 851.9,858.3 854.8,856.4 857.6,854.6 860.4,853.0 863.3,851.9 866.1,850.9 868.9,850.1 871.8,849.5 874.6,848.6 877.4,847.8 880.3,846.9 883.1,846.3 886.0,845.6 888.8,844.7 891.6,843.6 894.5,842.3 897.3,840.8 900.1,839.4 903.0,838.0 905.8,836.6 908.7,835.2 911.5,834.0 914.3,832.9 917.2,832.4 920.0,832.3 922.9,832.4 925.7,832.8 928.5,833.4 931.4,834.3 934.2,835.1 937.0,835.4 939.9,835.2 942.7,834.6 945.5,833.7 948.4,832.9 951.2,831.6 954.1,830.0 956.9,828.0 959.7,825.3 962.6,822.5 965.4,819.5 968.2,816.6 971.1,814.1 973.9,811.9 976.8,809.8 979.6,807.8 982.4,806.2 985.3,805.0 988.1,804.0 990.9,803.3 993.8,802.6 996.6,801.8 999.5,800.9 1002.3,800.5 1005.1,800.1 1008.0,799.4 1010.8,798.6 1013.6,798.2 1016.5,798.0 1019.3,797.1 1022.2,795.8 1025.0,794.1 1027.8,791.9 1030.7,790.2 1033.5,789.1 1036.3,788.8 1039.2,789.9 1042.0,792.1 1044.9,795.9 1047.7,801.3 1050.5,807.7 1053.4,815.1 1056.2,822.9 1059.0,830.9 1061.9,839.0 1064.7,846.3 1067.6,853.3 1070.4,859.6 1073.2,864.9 1076.1,869.1 1078.9,872.5 1081.8,874.8 1084.6,876.1 1087.4,876.8 1090.3,876.8 1093.1,876.3 1095.9,875.5 1098.8,874.8 1101.6,874.5 1104.5,874.5 1107.3,875.2 1110.1,876.1 1113.0,876.9 1115.8,877.5 1118.6,877.5 1121.5,876.9 1124.3,876.0 1127.1,874.9 1130.0,873.5 1132.8,872.0 1135.7,870.4 1138.5,869.6 1141.3,869.2 1144.2,869.2 1147.0,869.4 1149.8,869.5 1152.7,869.2 1155.5,868.5 1158.4,867.5 1161.2,866.0 1164.0,863.7 1166.9,860.8 1169.7,857.6 1172.5,854.3 1175.4,851.0 1178.2,847.8 1181.1,845.0 1183.9,842.7 1186.7,840.9 1189.6,840.0 1192.4,839.9 1195.2,840.6 1198.1,841.8 1200.9,844.0 1203.8,846.6 1206.6,849.8 1209.4,853.0 1212.3,856.2 1215.1,858.9 1218.0,860.9 1220.8,862.3 1223.6,863.3 1226.5,863.4 1229.3,863.1 1232.1,862.2 1235.0,861.4 1237.8,860.5 1240.6,859.5 1243.5,858.5 1246.3,857.6 1249.2,856.4 1252.0,855.1 1254.8,853.7 1257.7,852.4 1260.5,850.9 1263.3,849.5 1266.2,848.5 1269.0,847.7 1271.9,847.1 1274.7,846.8 1277.5,846.8 1280.4,847.0 1283.2,847.2 1286.0,847.7 1288.9,848.3 1291.7,848.9 1294.6,849.7 1297.4,850.9 1300.2,852.6 1303.1,855.0 1305.9,857.7 1308.8,860.6 1311.6,863.4 1314.4,866.3 1317.3,869.3 1320.1,871.5 1322.9,873.1 1325.8,873.8 1328.6,873.5 1331.5,872.4 1334.3,870.6 1337.1,867.9 1340.0,864.2 1342.8,860.1 1345.6,856.1 1348.5,852.2 1351.3,848.3 1354.1,844.5 1357.0,840.7 1359.8,836.9 1362.7,833.6 1365.5,831.2 1368.3,829.1 1371.2,827.3 1374.0,826.3 1376.8,826.0 1379.7,826.4 1382.5,828.2 1385.4,831.2 1388.2,835.0 1391.0,839.1 1393.9,843.7 1396.7,849.3 1399.5,855.4 1402.4,861.8" fill="none" stroke="#ff0000" stroke-width="0.85" stroke-dasharray="2 2"/></g></svg></body></html>
